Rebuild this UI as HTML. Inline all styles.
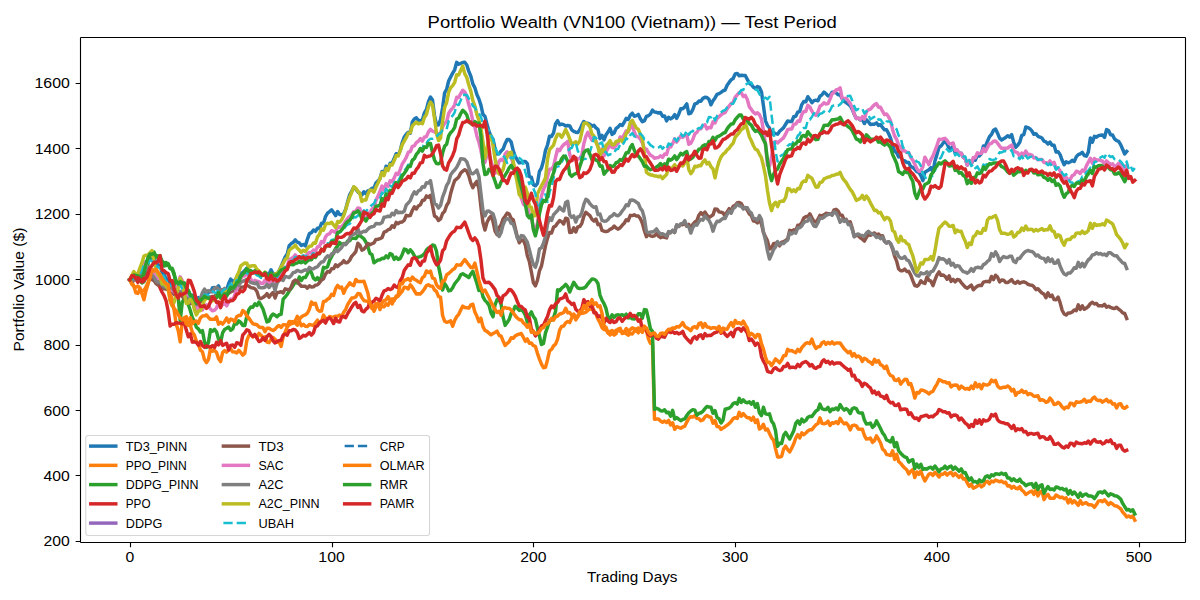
<!DOCTYPE html><html><head><meta charset="utf-8"><title>Portfolio Wealth</title><style>html,body{margin:0;padding:0;background:#fff}svg{display:block}text{font-family:"Liberation Sans",sans-serif;fill:#000}</style></head><body>
<svg width="1200" height="600" viewBox="0 0 1200 600">
<rect width="1200" height="600" fill="#fff"/>
<defs><clipPath id="ax"><rect x="79.53" y="37.33" width="1105.47" height="504.39"/></clipPath></defs>
<g clip-path="url(#ax)" fill="none" stroke-linejoin="round">
<polyline points="129.78,279.7 131.8,278.61 133.82,277.53 135.83,277.85 137.85,275.74 139.87,273.35 141.89,270.43 143.91,263.48 145.92,261.84 147.94,260.93 149.96,257.76 151.98,258.44 154,258.23 156.01,261.97 158.03,265.47 160.05,265.51 162.07,272.26 164.09,274.46 166.11,278.89 168.12,279.37 170.14,283.29 172.16,283.13 174.18,287.69 176.2,286.67 178.21,284.77 180.23,280.87 182.25,287.17 184.27,289.3 186.29,291.46 188.3,291.26 190.32,295.34 192.34,295.15 194.36,296.64 196.38,299.99 198.39,297.6 200.41,299.66 202.43,296.91 204.45,291 206.47,291.77 208.48,292.32 210.5,291.9 212.52,287.72 214.54,287.56 216.56,288.76 218.58,285.86 220.59,291.92 222.61,289.71 224.63,289.1 226.65,290.05 228.67,283.54 230.68,279.12 232.7,281.3 234.72,280.78 236.74,277.72 238.76,277.23 240.77,273.59 242.79,272.41 244.81,270.51 246.83,268.04 248.85,271.29 250.86,270.76 252.88,272.38 254.9,270.87 256.92,272.36 258.94,272.55 260.95,274.25 262.97,275.01 264.99,272.68 267.01,273.65 269.03,274.24 271.04,269.83 273.06,273.7 275.08,273.8 277.1,273.86 279.12,270.9 281.14,266.38 283.15,261.81 285.17,256.94 287.19,254.14 289.21,245.63 291.23,243.6 293.24,242.37 295.26,239.92 297.28,242.09 299.3,242.95 301.32,245.56 303.33,244.43 305.35,245.87 307.37,239.32 309.39,233.66 311.41,232.68 313.42,230 315.44,231.32 317.46,228.22 319.48,228.52 321.5,223.27 323.51,223.35 325.53,216.56 327.55,213.13 329.57,211.52 331.59,209.78 333.61,212.48 335.62,215.64 337.64,211.57 339.66,214.45 341.68,214.75 343.7,213.69 345.71,209.16 347.73,201.4 349.75,194.52 351.77,191.04 353.79,187.1 355.8,189.14 357.82,191.82 359.84,193.37 361.86,194.96 363.88,191.81 365.89,193.76 367.91,190.79 369.93,190.05 371.95,188.21 373.97,188.17 375.98,183 378,181.06 380.02,178.53 382.04,171.49 384.06,173.62 386.07,166.21 388.09,168.8 390.11,163.34 392.13,163.26 394.15,158.54 396.17,153.69 398.18,155.15 400.2,150.62 402.22,142.51 404.24,136.97 406.26,134.31 408.27,132.18 410.29,133.27 412.31,121.98 414.33,119.06 416.35,117.84 418.36,120.46 420.38,120.4 422.4,120 424.42,112.81 426.44,109.53 428.45,101.65 430.47,97.06 432.49,99.93 434.51,115.51 436.53,124.88 438.54,124.92 440.56,119.49 442.58,107.72 444.6,92.88 446.62,89.34 448.64,81 450.65,77.02 452.67,73.14 454.69,69.78 456.71,62.32 458.73,64.24 460.74,63.41 462.76,62.52 464.78,62.31 466.8,64.98 468.82,71.39 470.83,76.07 472.85,83.87 474.87,87.75 476.89,94.59 478.91,98.93 480.92,105.09 482.94,114.27 484.96,116.34 486.98,124.14 489,131.54 491.01,136.2 493.03,139.2 495.05,148.76 497.07,154.02 499.09,153.83 501.1,150.95 503.12,149.02 505.14,143.74 507.16,139.58 509.18,139.5 511.2,142.14 513.21,150.7 515.23,156.34 517.25,159.94 519.27,162.91 521.29,162.59 523.3,161.52 525.32,161.41 527.34,163.61 529.36,176.5 531.38,177.16 533.39,184.81 535.41,185.83 537.43,183.48 539.45,171.29 541.47,168.02 543.48,160.77 545.5,150.39 547.52,144.99 549.54,136.22 551.56,136.46 553.57,132.87 555.59,123.74 557.61,120.66 559.63,124.79 561.65,124.08 563.67,124.62 565.68,125.95 567.7,125.44 569.72,125.87 571.74,129.81 573.76,131.33 575.77,132.21 577.79,132.62 579.81,129.75 581.83,125.08 583.85,121.45 585.86,123.28 587.88,123.34 589.9,124.33 591.92,126.35 593.94,125.19 595.95,127.85 597.97,129.41 599.99,138.67 602.01,135.39 604.03,139.87 606.04,134.83 608.06,131.97 610.08,128.28 612.1,134.35 614.12,132.97 616.13,128.37 618.15,127 620.17,124.49 622.19,125.56 624.21,122.27 626.23,118.43 628.24,119.5 630.26,115.17 632.28,113.16 634.3,116.35 636.32,115.69 638.33,114.37 640.35,118.8 642.37,121.76 644.39,120.68 646.41,116.41 648.42,115.77 650.44,114.02 652.46,110.16 654.48,112.02 656.5,112.3 658.51,113 660.53,112.55 662.55,116.26 664.57,115.91 666.59,120.86 668.6,117.23 670.62,118.92 672.64,117.49 674.66,114.7 676.68,118.34 678.7,114.21 680.71,108.82 682.73,108.67 684.75,106.84 686.77,103.86 688.79,113.85 690.8,113.18 692.82,109.5 694.84,103.88 696.86,103.35 698.88,101.03 700.89,101.19 702.91,98.36 704.93,97.35 706.95,97.54 708.97,99.35 710.98,104.78 713,100.83 715.02,97.97 717.04,94.42 719.06,93.66 721.07,92.36 723.09,90.75 725.11,90 727.13,85.3 729.15,82.4 731.16,79.68 733.18,78.53 735.2,73.83 737.22,73.43 739.24,75.76 741.26,75.3 743.27,75.55 745.29,75.41 747.31,79.44 749.33,83.17 751.35,84.41 753.36,87.17 755.38,88.67 757.4,86.54 759.42,87.41 761.44,91.64 763.45,105.75 765.47,120.84 767.49,125.51 769.51,128.03 771.53,134.65 773.54,132.49 775.56,133.65 777.58,134.18 779.6,131.3 781.62,129.46 783.63,127.61 785.65,124.25 787.67,121.04 789.69,121.43 791.71,121.53 793.73,116.75 795.74,116.26 797.76,112.11 799.78,111.29 801.8,104.62 803.82,101.58 805.83,101.82 807.85,96.73 809.87,99.44 811.89,102.69 813.91,100.64 815.92,100.12 817.94,100.78 819.96,96.25 821.98,94.85 824,92.05 826.01,93.76 828.03,95.92 830.05,95.45 832.07,92.24 834.09,92.33 836.1,92.84 838.12,94.7 840.14,94.79 842.16,98.62 844.18,101.54 846.19,102.55 848.21,104.21 850.23,105.75 852.25,109.28 854.27,114.23 856.29,118.46 858.3,118.1 860.32,119.93 862.34,118.95 864.36,123.56 866.38,119.77 868.39,121.68 870.41,124.55 872.43,124.19 874.45,124.16 876.47,122.85 878.48,125.41 880.5,124.56 882.52,127.44 884.54,129.87 886.56,129.72 888.57,133.52 890.59,138.16 892.61,145.87 894.63,151.18 896.65,152.74 898.66,156.91 900.68,156.28 902.7,160.89 904.72,160.66 906.74,162.59 908.76,162.57 910.77,166.69 912.79,167.35 914.81,169.37 916.83,171.59 918.85,172.33 920.86,175.53 922.88,180.64 924.9,172.14 926.92,170.96 928.94,169.75 930.95,167.59 932.97,172.05 934.99,160.7 937.01,154.39 939.03,147.23 941.04,146.01 943.06,143.21 945.08,140.89 947.1,144.02 949.12,148.15 951.13,148.25 953.15,146.37 955.17,152.82 957.19,151.17 959.21,153.54 961.22,153.14 963.24,157.18 965.26,158.82 967.28,165.02 969.3,160.6 971.32,164 973.33,159.17 975.35,160.2 977.37,155.37 979.39,155.98 981.41,153.67 983.42,146.01 985.44,146.38 987.46,141.19 989.48,136.75 991.5,134.4 993.51,130.14 995.53,129 997.55,133.2 999.57,138.12 1001.59,140.03 1003.6,138.82 1005.62,137.61 1007.64,135.68 1009.66,137.25 1011.68,134.64 1013.69,142.28 1015.71,147.36 1017.73,145.12 1019.75,142.29 1021.77,135.35 1023.79,134.65 1025.8,127 1027.82,127.56 1029.84,128.68 1031.86,130.83 1033.88,134.34 1035.89,133.69 1037.91,136.28 1039.93,137.05 1041.95,138.06 1043.97,141.16 1045.98,141.86 1048,143.97 1050.02,142.08 1052.04,145.19 1054.06,145.12 1056.07,152.1 1058.09,151.64 1060.11,154.63 1062.13,160.3 1064.15,164.76 1066.16,161.86 1068.18,162.79 1070.2,162 1072.22,160.31 1074.24,161.46 1076.25,156.87 1078.27,154.57 1080.29,153.78 1082.31,152.37 1084.33,155.62 1086.35,156.2 1088.36,152.02 1090.38,138.05 1092.4,142.17 1094.42,136.41 1096.44,137.27 1098.45,135.61 1100.47,135.22 1102.49,134.98 1104.51,137.45 1106.53,129.61 1108.54,130.6 1110.56,134.78 1112.58,135.08 1114.6,138.96 1116.62,140.6 1118.63,141.28 1120.65,144.67 1122.67,149.27 1124.69,154.03 1126.71,151.52" stroke="#1f77b4" stroke-width="3.47" stroke-linecap="square"/>
<polyline points="129.78,279.7 131.8,281.2 133.82,286.21 135.83,287.1 137.85,286.1 139.87,287.82 141.89,291.28 143.91,290.34 145.92,287.16 147.94,282.72 149.96,276.88 151.98,277.67 154,272.24 156.01,278.15 158.03,276.9 160.05,280.01 162.07,283.16 164.09,285.56 166.11,285.11 168.12,287.79 170.14,294.16 172.16,299.27 174.18,310.69 176.2,324.15 178.21,330.47 180.23,341.9 182.25,321.03 184.27,317.86 186.29,316.68 188.3,320.87 190.32,325.41 192.34,332.17 194.36,335.08 196.38,341 198.39,343.99 200.41,350.11 202.43,351.76 204.45,359.56 206.47,362.61 208.48,359.33 210.5,348.64 212.52,351.25 214.54,350.4 216.56,352.51 218.58,358.63 220.59,361.64 222.61,352.52 224.63,350.58 226.65,352.14 228.67,349.84 230.68,349.1 232.7,351.89 234.72,351.87 236.74,352.96 238.76,350.29 240.77,352.42 242.79,355.11 244.81,353.26 246.83,340.6 248.85,335.57 250.86,335.03 252.88,336.87 254.9,334.94 256.92,338.2 258.94,333.34 260.95,335.18 262.97,337.41 264.99,336.8 267.01,342.18 269.03,342.63 271.04,339.08 273.06,337.46 275.08,339.23 277.1,342.45 279.12,341.73 281.14,346.49 283.15,336.92 285.17,331.88 287.19,327.25 289.21,324.81 291.23,323.79 293.24,322.95 295.26,322.77 297.28,325.28 299.3,320.83 301.32,325.82 303.33,324.28 305.35,326.26 307.37,326.44 309.39,324.48 311.41,324.91 313.42,325.67 315.44,322.83 317.46,320.21 319.48,323.27 321.5,321.19 323.51,315.14 325.53,318.39 327.55,319.37 329.57,316.48 331.59,317.15 333.61,316.84 335.62,316.12 337.64,316.22 339.66,315.1 341.68,316.46 343.7,312.3 345.71,309.46 347.73,304.34 349.75,301.19 351.77,297.98 353.79,297.69 355.8,296.89 357.82,293.6 359.84,293.63 361.86,297.63 363.88,300.58 365.89,301.05 367.91,301.33 369.93,304.83 371.95,304.87 373.97,311.27 375.98,306.89 378,303.14 380.02,305.39 382.04,306.53 384.06,306.89 386.07,303.8 388.09,305.31 390.11,300.83 392.13,298.89 394.15,300.66 396.17,296.02 398.18,296.22 400.2,293.75 402.22,291.13 404.24,287.25 406.26,287.51 408.27,289 410.29,284.78 412.31,287.15 414.33,290.7 416.35,293.99 418.36,293.77 420.38,293.93 422.4,291.79 424.42,288.99 426.44,285.66 428.45,284.72 430.47,286.09 432.49,286.23 434.51,289.92 436.53,291.68 438.54,296.54 440.56,297.18 442.58,315.53 444.6,321.15 446.62,322.35 448.64,321.82 450.65,320.78 452.67,326.26 454.69,320.32 456.71,316.63 458.73,314.34 460.74,309.92 462.76,306.16 464.78,307.54 466.8,307.73 468.82,308.14 470.83,304.8 472.85,304.24 474.87,312.12 476.89,316.34 478.91,321.61 480.92,318.16 482.94,326.58 484.96,330.38 486.98,331.38 489,333.14 491.01,334.83 493.03,333.51 495.05,332.42 497.07,331.14 499.09,335.33 501.1,336.17 503.12,340.98 505.14,345.44 507.16,343.56 509.18,341.66 511.2,337.69 513.21,338.25 515.23,335.93 517.25,334.74 519.27,334.08 521.29,333.52 523.3,337.3 525.32,341.32 527.34,338.96 529.36,343.16 531.38,343.08 533.39,345.69 535.41,346.46 537.43,353.32 539.45,359.06 541.47,364.1 543.48,367.79 545.5,367.37 547.52,359.71 549.54,350.86 551.56,349.4 553.57,345.89 555.59,344.14 557.61,339.13 559.63,330.16 561.65,326.42 563.67,325.99 565.68,322.87 567.7,321.5 569.72,322.6 571.74,317.88 573.76,314.15 575.77,316.64 577.79,316.3 579.81,313.88 581.83,313.39 583.85,312.99 585.86,312.18 587.88,310.3 589.9,308.8 591.92,309.42 593.94,310.38 595.95,314.02 597.97,319.07 599.99,322.64 602.01,327.63 604.03,329.5 606.04,329.86 608.06,332.92 610.08,331.52 612.1,330.43 614.12,332.8 616.13,330.11 618.15,329.94 620.17,331.18 622.19,331.99 624.21,331.99 626.23,328.52 628.24,331.28 630.26,329.63 632.28,327.82 634.3,328.62 636.32,329.6 638.33,327.92 640.35,328.6 642.37,332.04 644.39,326.16 646.41,330.35 648.42,338.72 650.44,343.37 652.46,343.82 654.48,419.31 656.5,418.96 658.51,419.05 660.53,420.98 662.55,422.18 664.57,421.06 666.59,422.47 668.6,420.4 670.62,424.97 672.64,422.75 674.66,429.33 676.68,426.71 678.7,427.36 680.71,428.15 682.73,426.92 684.75,426.31 686.77,422.12 688.79,418.37 690.8,416.71 692.82,417.03 694.84,415.57 696.86,418.37 698.88,418.69 700.89,420.71 702.91,419.96 704.93,416.96 706.95,415.48 708.97,416.74 710.98,417.23 713,423.32 715.02,420.59 717.04,426.58 719.06,426.68 721.07,429.43 723.09,427.91 725.11,426.73 727.13,425.16 729.15,423.57 731.16,421.52 733.18,418.54 735.2,417.63 737.22,418.5 739.24,412.33 741.26,416.22 743.27,413.69 745.29,415.93 747.31,417.73 749.33,417.73 751.35,420.12 753.36,417.12 755.38,422.46 757.4,419.84 759.42,429.09 761.44,427.76 763.45,424.22 765.47,430.05 767.49,429.02 769.51,433.45 771.53,437.79 773.54,440.02 775.56,448.9 777.58,456.93 779.6,457.05 781.62,456.38 783.63,448.91 785.65,446.13 787.67,449.6 789.69,452.01 791.71,448.16 793.73,443.84 795.74,438.05 797.76,434.62 799.78,437.93 801.8,432.88 803.82,434.71 805.83,432.97 807.85,430.96 809.87,429.79 811.89,429.74 813.91,427.13 815.92,424.83 817.94,423.62 819.96,417.87 821.98,423.35 824,423.79 826.01,423.26 828.03,421.14 830.05,425.41 832.07,422.76 834.09,423.25 836.1,421.69 838.12,423.65 840.14,418.29 842.16,421.68 844.18,423.83 846.19,422.94 848.21,425.4 850.23,429.83 852.25,425.61 854.27,425.11 856.29,425.78 858.3,429.02 860.32,429.29 862.34,429.15 864.36,435.33 866.38,439.05 868.39,438.82 870.41,438.03 872.43,442.32 874.45,440.7 876.47,435.92 878.48,439.01 880.5,442.71 882.52,449.07 884.54,450.57 886.56,454.49 888.57,454.87 890.59,455.56 892.61,450.73 894.63,459.44 896.65,454.23 898.66,461.41 900.68,463.38 902.7,465.94 904.72,468.01 906.74,469.77 908.76,473.92 910.77,471.24 912.79,469.59 914.81,477.49 916.83,471.95 918.85,474.5 920.86,470.95 922.88,476.8 924.9,480.9 926.92,477.36 928.94,474.16 930.95,473.45 932.97,475.39 934.99,472.23 937.01,474.43 939.03,477.01 941.04,474.13 943.06,474.26 945.08,472.44 947.1,475.07 949.12,473.18 951.13,472.33 953.15,475.67 955.17,473.4 957.19,475.51 959.21,477.41 961.22,475.08 963.24,478.97 965.26,478.69 967.28,483.12 969.3,486.36 971.32,484.16 973.33,488.18 975.35,487.2 977.37,485.95 979.39,484.45 981.41,486.83 983.42,485.6 985.44,481.9 987.46,481.32 989.48,483.79 991.5,480.95 993.51,481.96 995.53,480.09 997.55,480.85 999.57,481.79 1001.59,480.97 1003.6,482.83 1005.62,482.19 1007.64,486.05 1009.66,485.62 1011.68,488.05 1013.69,486.33 1015.71,488.31 1017.73,488.72 1019.75,486.61 1021.77,490.2 1023.79,491.73 1025.8,494.41 1027.82,493.13 1029.84,491.86 1031.86,491.08 1033.88,494.4 1035.89,489.99 1037.91,495.96 1039.93,492.1 1041.95,490.96 1043.97,499.63 1045.98,496.16 1048,494.34 1050.02,498.27 1052.04,498.15 1054.06,498.22 1056.07,494.98 1058.09,496.23 1060.11,497.65 1062.13,497.07 1064.15,498.8 1066.16,497.85 1068.18,502.9 1070.2,499.2 1072.22,503.07 1074.24,500.74 1076.25,502.8 1078.27,505.31 1080.29,500.66 1082.31,504.26 1084.33,503.23 1086.35,502.76 1088.36,504.68 1090.38,504.61 1092.4,505.23 1094.42,507.34 1096.44,504.55 1098.45,501.09 1100.47,500.63 1102.49,501.68 1104.51,499.89 1106.53,502.15 1108.54,504.69 1110.56,502.64 1112.58,503.95 1114.6,505.74 1116.62,506.03 1118.63,507.33 1120.65,508.73 1122.67,512.1 1124.69,514.26 1126.71,517.04 1128.72,515.96 1130.74,517.45 1132.76,516.02 1134.78,520.27" stroke="#ff7f0e" stroke-width="3.47" stroke-linecap="square"/>
<polyline points="129.78,279.7 131.8,276.9 133.82,278.03 135.83,276.67 137.85,275.95 139.87,280.62 141.89,282.91 143.91,281.71 145.92,277.54 147.94,264.5 149.96,253.82 151.98,254.89 154,251.98 156.01,257.25 158.03,255.68 160.05,257.51 162.07,260.94 164.09,266.01 166.11,262.58 168.12,264.09 170.14,268.42 172.16,268.34 174.18,273.65 176.2,286.3 178.21,297 180.23,320.68 182.25,302.23 184.27,299.01 186.29,298.71 188.3,304.51 190.32,310.49 192.34,317.76 194.36,321.16 196.38,327.25 198.39,328.89 200.41,331.99 202.43,330.61 204.45,341.55 206.47,347.39 208.48,342.1 210.5,329.64 212.52,331.24 214.54,329.38 216.56,332.04 218.58,339.17 220.59,342.69 222.61,332.9 224.63,329.41 226.65,328.28 228.67,327.08 230.68,330.2 232.7,328.84 234.72,323.27 236.74,324.02 238.76,320.91 240.77,322.42 242.79,325.41 244.81,325.57 246.83,315.84 248.85,309.8 250.86,306.88 252.88,307.21 254.9,303.76 256.92,305.51 258.94,302.01 260.95,305.18 262.97,309.07 264.99,315.52 267.01,321.93 269.03,321.11 271.04,316.26 273.06,314.04 275.08,315.17 277.1,316.77 279.12,314.8 281.14,314.3 283.15,299.15 285.17,297.05 287.19,294.44 289.21,291.03 291.23,288.5 293.24,285.4 295.26,281.95 297.28,282.95 299.3,276.98 301.32,280.45 303.33,277.4 305.35,277.52 307.37,274.16 309.39,269.62 311.41,272.45 313.42,278.21 315.44,279.82 317.46,277.7 319.48,280.77 321.5,276.45 323.51,267.37 325.53,267.85 327.55,266.78 329.57,260.36 331.59,256.71 333.61,252.4 335.62,248.47 337.64,246.04 339.66,242.41 341.68,244.59 343.7,243.44 345.71,243.92 347.73,240.94 349.75,240.81 351.77,237.98 353.79,238.34 355.8,238.55 357.82,236.02 359.84,235.55 361.86,237.06 363.88,238.77 365.89,242.04 367.91,246.95 369.93,253.47 371.95,254.59 373.97,262.74 375.98,261.35 378,260.01 380.02,259.74 382.04,258.35 384.06,258.53 386.07,255.95 388.09,257.81 390.11,253.5 392.13,254.58 394.15,259.38 396.17,257.19 398.18,259.4 400.2,258.6 402.22,254.46 404.24,249.07 406.26,249.7 408.27,252.71 410.29,249.78 412.31,252.15 414.33,255.7 416.35,258.31 418.36,257.09 420.38,256.62 422.4,255.49 424.42,253.7 426.44,249.95 428.45,247.99 430.47,247.88 432.49,245 434.51,245.66 436.53,251.26 438.54,266.35 440.56,276.05 442.58,290.04 444.6,283.55 446.62,286.39 448.64,290.9 450.65,290.34 452.67,287.68 454.69,283.76 456.71,281.23 458.73,278.73 460.74,274.78 462.76,273.66 464.78,275.04 466.8,276.13 468.82,277.55 470.83,273.97 472.85,271.39 474.87,277.25 476.89,283.22 478.91,290.51 480.92,288.16 482.94,296.58 484.96,300.38 486.98,302.37 489,305.14 491.01,312.91 493.03,316.83 495.05,304.82 497.07,299.5 499.09,299.65 501.1,304.2 503.12,317.22 505.14,325.37 507.16,322.48 509.18,319.57 511.2,313.4 513.21,310.93 515.23,306.28 517.25,308.12 519.27,310.48 521.29,309.73 523.3,311.5 525.32,315.27 527.34,321.99 529.36,314.84 531.38,311.95 533.39,316.58 535.41,319.37 537.43,328.25 539.45,336.01 541.47,344.53 543.48,343.4 545.5,332.87 547.52,327.23 549.54,320.4 551.56,320.18 553.57,317.68 555.59,311.3 557.61,289.68 559.63,290.8 561.65,288.1 563.67,286.66 565.68,284.24 567.7,286.9 569.72,292.04 571.74,287.01 573.76,282.27 575.77,285.3 577.79,287.99 579.81,288.59 581.83,288.39 583.85,287.99 585.86,286.75 587.88,283.86 589.9,281.35 591.92,279.04 593.94,279.13 595.95,280.38 597.97,283.46 599.99,295.1 602.01,300.13 604.03,303.53 606.04,308.52 608.06,317.51 610.08,318.9 612.1,314.79 614.12,317.36 616.13,315.11 618.15,314.78 620.17,315.42 622.19,314.73 624.21,316.2 626.23,314.13 628.24,317.9 630.26,317.52 632.28,318.74 634.3,318.97 636.32,317.63 638.33,313.75 640.35,313.78 642.37,318.23 644.39,309.58 646.41,310.04 648.42,318.99 650.44,328.81 652.46,331.28 654.48,409.38 656.5,408.29 658.51,409.05 660.53,410.71 662.55,410.93 664.57,409.81 666.59,412.8 668.6,412.21 670.62,416.22 672.64,410.39 674.66,418.99 676.68,417.55 678.7,419.21 680.71,420.65 682.73,419.42 684.75,418.81 686.77,415.5 688.79,412.76 690.8,411.04 692.82,409.68 694.84,410.17 696.86,415.23 698.88,413.44 700.89,412.77 702.91,411.28 704.93,408.62 706.95,406.5 708.97,407.08 710.98,407.23 713,413.32 715.02,410.6 717.04,417.6 719.06,418.71 721.07,423 723.09,419.95 725.11,409.29 727.13,408.73 729.15,408.14 731.16,406.52 733.18,403.54 735.2,402.68 737.22,404.05 739.24,398.39 741.26,402.47 743.27,399.94 745.29,402.04 747.31,402.82 749.33,401.82 751.35,404.21 753.36,401.71 755.38,407.27 757.4,403.64 759.42,412.84 761.44,415.7 763.45,407.28 765.47,413.81 767.49,414.19 769.51,413.87 771.53,421.09 773.54,423.73 775.56,430.84 777.58,446.26 779.6,443.26 781.62,443.58 783.63,435.31 785.65,432.38 787.67,435.91 789.69,438.99 791.71,434.92 793.73,430.76 795.74,423.43 797.76,420.87 799.78,424.18 801.8,419.13 803.82,421.95 805.83,420.47 807.85,417.25 809.87,416.33 811.89,416.54 813.91,413.65 815.92,411.08 817.94,409.87 819.96,404.12 821.98,408.61 824,409.54 826.01,409.51 828.03,407.39 830.05,411.66 832.07,409.01 834.09,409.5 836.1,407.94 838.12,409.9 840.14,404.54 842.16,407.93 844.18,410.08 846.19,408.59 848.21,410.04 850.23,413.53 852.25,408.8 854.27,407.79 856.29,408.6 858.3,412.35 860.32,413.04 862.34,412.9 864.36,420 866.38,424.05 868.39,423.82 870.41,423.03 872.43,427.32 874.45,425.7 876.47,420.92 878.48,424.5 880.5,428.46 882.52,432.83 884.54,435.34 886.56,439.88 888.57,440.77 890.59,441.96 892.61,437.64 894.63,446.85 896.65,442.56 898.66,450.74 900.68,453.21 902.7,455.26 904.72,456.83 906.74,457.65 908.76,462.05 910.77,460.38 912.79,459.74 914.81,468.64 916.83,464.11 918.85,467.67 920.86,464.34 922.88,469.35 924.9,468.78 926.92,469.17 928.94,467.65 930.95,467.2 932.97,469.14 934.99,465.98 937.01,468.69 939.03,471.77 941.04,468.87 943.06,468.49 945.08,466.19 947.1,468.82 949.12,466.93 951.13,466.08 953.15,469.42 955.17,467.15 957.19,469.26 959.21,471.16 961.22,468.83 963.24,472.72 965.26,472.44 967.28,476.87 969.3,480.11 971.32,477.91 973.33,481.93 975.35,481.39 977.37,482.66 979.39,479.91 981.41,481.83 983.42,480.6 985.44,476.79 987.46,475.7 989.48,477.67 991.5,474.7 993.51,475.71 995.53,473.71 997.55,473.96 999.57,474.39 1001.59,473.08 1003.6,474.43 1005.62,473.6 1007.64,477.96 1009.66,478.04 1011.68,480.55 1013.69,478.83 1015.71,480.81 1017.73,481.22 1019.75,479.11 1021.77,482.26 1023.79,483.29 1025.8,485.66 1027.82,484.49 1029.84,483.89 1031.86,483.78 1033.88,487.54 1035.89,483.4 1037.91,489.54 1039.93,485.84 1041.95,484.71 1043.97,493.38 1045.98,489.42 1048,486.59 1050.02,489.51 1052.04,488.89 1054.06,490.01 1056.07,486.94 1058.09,487.48 1060.11,488.9 1062.13,488.32 1064.15,490.05 1066.16,489.1 1068.18,494.15 1070.2,490.45 1072.22,494.32 1074.24,491.99 1076.25,494.37 1078.27,497.38 1080.29,493.08 1082.31,496.18 1084.33,494.64 1086.35,494.01 1088.36,495.93 1090.38,495.86 1092.4,496.48 1094.42,498.59 1096.44,495.8 1098.45,492.34 1100.47,491.88 1102.49,492.93 1104.51,491.14 1106.53,493.4 1108.54,495.94 1110.56,493.75 1112.58,494.56 1114.6,495.84 1116.62,496.03 1118.63,497.33 1120.65,499.06 1122.67,503.43 1124.69,506.61 1126.71,509.97 1128.72,509.39 1130.74,511.2 1132.76,509.77 1134.78,514.02" stroke="#2ca02c" stroke-width="3.47" stroke-linecap="square"/>
<polyline points="129.78,279.7 131.8,278.9 133.82,275.51 135.83,279.19 137.85,282.36 139.87,276.72 141.89,281.94 143.91,280.87 145.92,277.74 147.94,276.83 149.96,275.36 151.98,270.65 154,275.76 156.01,277.84 158.03,283.18 160.05,287.8 162.07,292.25 164.09,295.73 166.11,300.92 168.12,310.99 170.14,325.97 172.16,324.28 174.18,324.18 176.2,322.59 178.21,323.02 180.23,323.39 182.25,323.88 184.27,322.18 186.29,330.1 188.3,336.75 190.32,333.81 192.34,342.15 194.36,341.82 196.38,342.5 198.39,345.24 200.41,341.58 202.43,345.41 204.45,347.33 206.47,345.77 208.48,346.8 210.5,347.13 212.52,345.58 214.54,347.53 216.56,342.18 218.58,344.86 220.59,340.66 222.61,345.37 224.63,344.32 226.65,343.25 228.67,350.04 230.68,345.39 232.7,344.98 234.72,347.29 236.74,342.68 238.76,343.34 240.77,345.31 242.79,334.95 244.81,332.89 246.83,329.83 248.85,330.67 250.86,334.57 252.88,336.49 254.9,334.4 256.92,338.04 258.94,341.5 260.95,340.89 262.97,337.8 264.99,340.4 267.01,336.48 269.03,334.46 271.04,336.53 273.06,340.82 275.08,342.95 277.1,341.45 279.12,340.65 281.14,340.22 283.15,335.06 285.17,334.03 287.19,335.12 289.21,330.78 291.23,330.78 293.24,329.43 295.26,329.98 297.28,332.47 299.3,338.38 301.32,337.21 303.33,335.28 305.35,336.05 307.37,334.36 309.39,332.6 311.41,335.19 313.42,332.89 315.44,326.58 317.46,325.9 319.48,322.74 321.5,321.32 323.51,320.3 325.53,323.09 327.55,318.86 329.57,317.87 331.59,319.9 333.61,323.54 335.62,318.35 337.64,321.53 339.66,322.03 341.68,316.7 343.7,316.59 345.71,317.6 347.73,313.45 349.75,310.31 351.77,306.92 353.79,303.86 355.8,302.3 357.82,307.41 359.84,305.43 361.86,310.91 363.88,311.81 365.89,309.25 367.91,307.73 369.93,302.51 371.95,302.44 373.97,300.99 375.98,298.32 378,299.31 380.02,300.83 382.04,295.25 384.06,290.87 386.07,290.25 388.09,288.52 390.11,289.54 392.13,288.69 394.15,285.13 396.17,286.99 398.18,287.72 400.2,280.74 402.22,277.47 404.24,270.45 406.26,267.57 408.27,264.84 410.29,265.31 412.31,258.53 414.33,257.7 416.35,259.06 418.36,262.62 420.38,265.37 422.4,261.31 424.42,260.95 426.44,253.12 428.45,250.63 430.47,246.5 432.49,255.61 434.51,260.84 436.53,264.82 438.54,263.2 440.56,260.25 442.58,250.79 444.6,248.67 446.62,240.8 448.64,237.36 450.65,234.24 452.67,232.16 454.69,230.96 456.71,227.28 458.73,227.59 460.74,227.62 462.76,224.78 464.78,222.16 466.8,227.34 468.82,233.16 470.83,238.27 472.85,240.49 474.87,237.95 476.89,240.64 478.91,246.24 480.92,259.79 482.94,278.02 484.96,282.53 486.98,282.52 489,282.23 491.01,284.16 493.03,286.84 495.05,289.63 497.07,295.57 499.09,297.39 501.1,302.6 503.12,295.71 505.14,294.74 507.16,292.65 509.18,289.53 511.2,290.01 513.21,292.62 515.23,296.09 517.25,301.4 519.27,306.1 521.29,306.56 523.3,308.64 525.32,310.02 527.34,316.91 529.36,318.01 531.38,329.3 533.39,331.41 535.41,335.91 537.43,333.49 539.45,329.77 541.47,325.94 543.48,325.21 545.5,320.62 547.52,316.47 549.54,309.86 551.56,305.94 553.57,307.64 555.59,303.87 557.61,302.42 559.63,299.13 561.65,298.46 563.67,297.5 565.68,293.91 567.7,300.58 569.72,302.19 571.74,304.42 573.76,303.24 575.77,309.29 577.79,311.19 579.81,310.98 581.83,308.44 583.85,299.75 585.86,302.97 587.88,301.67 589.9,306.38 591.92,305.03 593.94,312.76 595.95,312.79 597.97,316.65 599.99,315.87 602.01,318.18 604.03,322.75 606.04,318.28 608.06,321.05 610.08,322.47 612.1,320.27 614.12,322.52 616.13,321.62 618.15,318.19 620.17,318.04 622.19,321.33 624.21,318.73 626.23,317.38 628.24,316.95 630.26,313.4 632.28,316.37 634.3,315.44 636.32,317.03 638.33,321.18 640.35,319.67 642.37,330.42 644.39,328.3 646.41,330.53 648.42,334.33 650.44,335.9 652.46,334.68 654.48,334.15 656.5,338.11 658.51,339.1 660.53,336.14 662.55,336.7 664.57,337.16 666.59,333.07 668.6,330.99 670.62,332.58 672.64,331.72 674.66,333.28 676.68,332.49 678.7,333.94 680.71,333.18 682.73,331.46 684.75,336.22 686.77,338.61 688.79,340.8 690.8,342.8 692.82,338.43 694.84,336.71 696.86,339.2 698.88,335.63 700.89,334.8 702.91,338.5 704.93,333.56 706.95,335.95 708.97,335.32 710.98,335.52 713,333.68 715.02,332.62 717.04,332.15 719.06,327.29 721.07,333.25 723.09,331.16 725.11,334.23 727.13,336.44 729.15,334.55 731.16,332.46 733.18,336.61 735.2,330.02 737.22,328.83 739.24,328.5 741.26,331.11 743.27,327.9 745.29,329.92 747.31,332.94 749.33,340.5 751.35,339.1 753.36,341.61 755.38,345.34 757.4,343.13 759.42,344.69 761.44,356.47 763.45,361.21 765.47,364.7 767.49,371.36 769.51,372.1 771.53,372.5 773.54,369 775.56,367.66 777.58,369.48 779.6,370.56 781.62,369.93 783.63,366.45 785.65,366.57 787.67,363.39 789.69,367.84 791.71,367.2 793.73,367.35 795.74,367.67 797.76,364.36 799.78,366.51 801.8,363.56 803.82,362.34 805.83,361.48 807.85,363.1 809.87,366.02 811.89,364.5 813.91,367.54 815.92,368.39 817.94,366.82 819.96,366.51 821.98,361.83 824,359.75 826.01,362.4 828.03,361.39 830.05,363.8 832.07,361.93 834.09,364.05 836.1,362.98 838.12,362.99 840.14,362.92 842.16,364.91 844.18,366.77 846.19,368.27 848.21,370.28 850.23,369.17 852.25,375.9 854.27,375.36 856.29,380.12 858.3,380.17 860.32,382.39 862.34,386.44 864.36,383.22 866.38,384.19 868.39,386.43 870.41,387.87 872.43,392.9 874.45,391.1 876.47,394.34 878.48,392.45 880.5,396.15 882.52,396.53 884.54,398.51 886.56,395.34 888.57,400.8 890.59,402.88 892.61,402.32 894.63,405.32 896.65,405.49 898.66,403.95 900.68,409.83 902.7,409.24 904.72,409.01 906.74,409.36 908.76,414.5 910.77,412.85 912.79,416.47 914.81,418.61 916.83,417.92 918.85,420.32 920.86,416.74 922.88,416.2 924.9,415.57 926.92,415.19 928.94,417.17 930.95,416.31 932.97,416.76 934.99,414.73 937.01,413.58 939.03,409.63 941.04,410.33 943.06,411.72 945.08,411.81 947.1,413.16 949.12,412.8 951.13,416.96 953.15,415.22 955.17,414.98 957.19,415.79 959.21,419.98 961.22,418.01 963.24,420.46 965.26,423.13 967.28,424.45 969.3,427.4 971.32,424.51 973.33,426.49 975.35,420.17 977.37,423.27 979.39,419.74 981.41,424.13 983.42,419.88 985.44,421.01 987.46,420.64 989.48,419.04 991.5,414.65 993.51,415.87 995.53,414.16 997.55,419.73 999.57,421.65 1001.59,422.5 1003.6,422.69 1005.62,423.76 1007.64,423.64 1009.66,425.99 1011.68,428.37 1013.69,425.4 1015.71,430.68 1017.73,428.83 1019.75,429.67 1021.77,428.58 1023.79,431.89 1025.8,431.43 1027.82,434.65 1029.84,433.48 1031.86,433.49 1033.88,434.32 1035.89,433.68 1037.91,433.31 1039.93,437.8 1041.95,436.8 1043.97,436.89 1045.98,439.11 1048,439.32 1050.02,436.71 1052.04,439.83 1054.06,444.21 1056.07,444.35 1058.09,443.12 1060.11,445.15 1062.13,447.1 1064.15,448.01 1066.16,446.08 1068.18,447.23 1070.2,443.27 1072.22,443.54 1074.24,445.76 1076.25,442.07 1078.27,443.19 1080.29,443.43 1082.31,443.81 1084.33,442.72 1086.35,443.31 1088.36,440.97 1090.38,443.95 1092.4,441.19 1094.42,439.48 1096.44,441.83 1098.45,442.18 1100.47,441.62 1102.49,444 1104.51,443.21 1106.53,440.7 1108.54,441.78 1110.56,439.91 1112.58,443.53 1114.6,443.62 1116.62,448.4 1118.63,445.2 1120.65,445.16 1122.67,449.5 1124.69,451.12 1126.71,450.28" stroke="#d62728" stroke-width="3.47" stroke-linecap="square"/>
<polyline points="129.78,279.7 131.8,282.09 133.82,280.2 135.83,278.99 137.85,278.73 139.87,275.62 141.89,276.08 143.91,273.86 145.92,272.93 147.94,273.16 149.96,275.19 151.98,279.73 154,280.57 156.01,283.62 158.03,285.03 160.05,283.9 162.07,286.14 164.09,288.87 166.11,289.15 168.12,289.98 170.14,291.63 172.16,291 174.18,294.67 176.2,293.6 178.21,294.93 180.23,294.86 182.25,296.4 184.27,298.41 186.29,300.83 188.3,301.06 190.32,303.25 192.34,303.54 194.36,302.91 196.38,305.11 198.39,301.52 200.41,301.88 202.43,299.4 204.45,294.39 206.47,297.81 208.48,297.27 210.5,297.09 212.52,296.4 214.54,296.1 216.56,295.17 218.58,296.41 220.59,295.52 222.61,296 224.63,293.48 226.65,295.11 228.67,293.23 230.68,291.9 232.7,290.65 234.72,291.09 236.74,286.68 238.76,289.59 240.77,287.38 242.79,287.04 244.81,286.65 246.83,285.2 248.85,286.25 250.86,287.65 252.88,287.92 254.9,288.74 256.92,291.47 258.94,297.92 260.95,298.5 262.97,297.46 264.99,296.03 267.01,293.6 269.03,297.28 271.04,294.58 273.06,292.55 275.08,298 277.1,292.54 279.12,292.25 281.14,291.78 283.15,292.91 285.17,288.77 287.19,289.45 289.21,290.03 291.23,286.82 293.24,281.67 295.26,280 297.28,280.77 299.3,284.05 301.32,286.24 303.33,286.13 305.35,286.28 307.37,288.08 309.39,285.83 311.41,287.13 313.42,286.77 315.44,285.16 317.46,284.86 319.48,282.72 321.5,280.02 323.51,278.74 325.53,274.09 327.55,271.45 329.57,272.15 331.59,268.83 333.61,268.63 335.62,264.82 337.64,266.59 339.66,264.58 341.68,263.35 343.7,260.67 345.71,262.88 347.73,262.47 349.75,260.15 351.77,256.15 353.79,254.14 355.8,251.56 357.82,243.31 359.84,245.28 361.86,250.1 363.88,249.1 365.89,246.76 367.91,243.5 369.93,244.75 371.95,243.77 373.97,242.89 375.98,239.4 378,239.23 380.02,238.68 382.04,237.53 384.06,232.22 386.07,231.45 388.09,229.69 390.11,229.09 392.13,225.7 394.15,227.35 396.17,222.4 398.18,223.67 400.2,222.19 402.22,221.96 404.24,220.27 406.26,215.3 408.27,215.89 410.29,215.48 412.31,210.5 414.33,206.87 416.35,208.97 418.36,205.92 420.38,204.81 422.4,200.53 424.42,199.96 426.44,195.93 428.45,197.32 430.47,195.37 432.49,205.57 434.51,216 436.53,217.24 438.54,220.52 440.56,218.86 442.58,213.5 444.6,211.38 446.62,205.46 448.64,202.29 450.65,193.59 452.67,186.57 454.69,180.55 456.71,178.93 458.73,177.07 460.74,172.93 462.76,171.11 464.78,169.71 466.8,171.04 468.82,175.83 470.83,183.16 472.85,187.67 474.87,183.82 476.89,181.4 478.91,188.52 480.92,206.78 482.94,222.49 484.96,230.09 486.98,222.44 489,218.45 491.01,216 493.03,221.52 495.05,231.13 497.07,234.56 499.09,227.51 501.1,224.79 503.12,218.75 505.14,216.27 507.16,213.11 509.18,214.07 511.2,218.42 513.21,219.7 515.23,227.91 517.25,236.55 519.27,242.76 521.29,239.93 523.3,240.16 525.32,244.99 527.34,255.77 529.36,261.55 531.38,272.03 533.39,282.71 535.41,285.8 537.43,280.44 539.45,270.82 541.47,265.99 543.48,255.84 545.5,245.86 547.52,238.07 549.54,232.47 551.56,232.99 553.57,227.09 555.59,226.03 557.61,223.11 559.63,220.64 561.65,221.7 563.67,224.03 565.68,218.16 567.7,218.86 569.72,232.42 571.74,232.26 573.76,227.8 575.77,232.01 577.79,226.9 579.81,226.5 581.83,223.34 583.85,216.31 585.86,212.21 587.88,214 589.9,215.65 591.92,219.25 593.94,221.08 595.95,219.08 597.97,224.69 599.99,224.09 602.01,230.43 604.03,231.23 606.04,231.63 608.06,231.04 610.08,229.3 612.1,228.44 614.12,226.07 616.13,228.05 618.15,229.13 620.17,227.74 622.19,225.3 624.21,223.32 626.23,219.72 628.24,220.67 630.26,215.36 632.28,215.62 634.3,214.83 636.32,215.93 638.33,216.05 640.35,218.67 642.37,223.24 644.39,230.74 646.41,236.71 648.42,233.79 650.44,235.87 652.46,236.45 654.48,235.77 656.5,233.56 658.51,236.19 660.53,237.68 662.55,236.76 664.57,237.41 666.59,237.87 668.6,232.21 670.62,232.65 672.64,230.46 674.66,232.38 676.68,225.01 678.7,226.45 680.71,224.3 682.73,224.77 684.75,223.07 686.77,226.21 688.79,224.46 690.8,229.54 692.82,224.45 694.84,221.99 696.86,220.76 698.88,215.21 700.89,212.56 702.91,214.87 704.93,212.01 706.95,215.15 708.97,217.55 710.98,216.24 713,214.9 715.02,208.93 717.04,209.13 719.06,211.84 721.07,212.24 723.09,212.94 725.11,216.09 727.13,211.81 729.15,208.62 731.16,210.77 733.18,206.31 735.2,205.32 737.22,202.73 739.24,202.5 741.26,203.48 743.27,207.36 745.29,207.7 747.31,210.1 749.33,213.98 751.35,215.58 753.36,220.98 755.38,221.19 757.4,222.85 759.42,219.35 761.44,223.95 763.45,232.51 765.47,236.82 767.49,240.89 769.51,249.05 771.53,247.74 773.54,243.8 775.56,243.27 777.58,242.91 779.6,245.85 781.62,242.15 783.63,241.69 785.65,240.31 787.67,238.83 789.69,230.32 791.71,231.57 793.73,229.79 795.74,230.71 797.76,225.34 799.78,225.19 801.8,222.52 803.82,218.02 805.83,216.56 807.85,216.67 809.87,213.8 811.89,217.82 813.91,221.35 815.92,221.98 817.94,219.24 819.96,215.33 821.98,215.84 824,214.78 826.01,213.31 828.03,213.62 830.05,213.84 832.07,214.21 834.09,209.83 836.1,209.33 838.12,211.13 840.14,215.01 842.16,215.27 844.18,220.16 846.19,219.37 848.21,223.08 850.23,221.81 852.25,228.23 854.27,236.48 856.29,235.35 858.3,235.6 860.32,237.81 862.34,239.14 864.36,241.08 866.38,237.36 868.39,234.6 870.41,235.34 872.43,233.95 874.45,232.91 876.47,234.89 878.48,233.97 880.5,236.39 882.52,235.67 884.54,241.24 886.56,243.05 888.57,241.7 890.59,243.91 892.61,249.09 894.63,256.31 896.65,261.1 898.66,269 900.68,270.66 902.7,270.73 904.72,269.04 906.74,271.5 908.76,271.36 910.77,275.12 912.79,280.64 914.81,285.51 916.83,286.24 918.85,284.81 920.86,280.79 922.88,282.69 924.9,283.49 926.92,276.93 928.94,280.45 930.95,281.21 932.97,285.61 934.99,279.95 937.01,274.91 939.03,271.93 941.04,275.35 943.06,275.05 945.08,276.36 947.1,279.26 949.12,275.79 951.13,281.38 953.15,279.39 955.17,281.86 957.19,279.51 959.21,279.88 961.22,282.57 963.24,284.8 965.26,287.16 967.28,288.12 969.3,286.57 971.32,285 973.33,289.78 975.35,287.77 977.37,286.14 979.39,285.32 981.41,285.61 983.42,282.16 985.44,281.6 987.46,281.39 989.48,281.9 991.5,276.46 993.51,279.64 995.53,275.2 997.55,277.06 999.57,281.89 1001.59,280.01 1003.6,280.16 1005.62,282.4 1007.64,282.58 1009.66,281.24 1011.68,279.66 1013.69,282.6 1015.71,283.22 1017.73,281.29 1019.75,283.3 1021.77,282.27 1023.79,281.82 1025.8,282.54 1027.82,284.25 1029.84,284.92 1031.86,285.18 1033.88,286.68 1035.89,289.62 1037.91,288.65 1039.93,291 1041.95,293.05 1043.97,294.11 1045.98,297.65 1048,292.75 1050.02,296.49 1052.04,295.19 1054.06,299.61 1056.07,299.82 1058.09,297.17 1060.11,302.59 1062.13,310.25 1064.15,313.97 1066.16,314.96 1068.18,312.93 1070.2,313.03 1072.22,312 1074.24,309.94 1076.25,310.75 1078.27,304.89 1080.29,309.5 1082.31,305.83 1084.33,309.28 1086.35,308.05 1088.36,306.37 1090.38,303.64 1092.4,302.32 1094.42,304 1096.44,303.44 1098.45,305.78 1100.47,305.66 1102.49,306.07 1104.51,304.28 1106.53,307.2 1108.54,306.25 1110.56,307.37 1112.58,308.29 1114.6,308.58 1116.62,307.31 1118.63,309.18 1120.65,310.57 1122.67,312.86 1124.69,313.47 1126.71,318.51" stroke="#8c564b" stroke-width="3.47" stroke-linecap="square"/>
<polyline points="129.78,279.7 131.8,278.61 133.82,277.53 135.83,277.85 137.85,275.48 139.87,271.58 141.89,267.14 143.91,262.88 145.92,264.34 147.94,269.34 149.96,272.63 151.98,273.44 154,273.23 156.01,276.46 158.03,278.95 160.05,277.94 162.07,282.17 164.09,281.85 166.11,285.42 168.12,286.4 170.14,290.69 172.16,289.01 174.18,292.06 176.2,288.62 178.21,283.69 180.23,276.83 182.25,280.61 184.27,287.29 186.29,294.03 188.3,296.46 190.32,301.2 192.34,302.53 194.36,305.07 196.38,309.43 198.39,307.15 200.41,309.13 202.43,309.92 204.45,305.58 206.47,304.94 208.48,305.67 210.5,309.03 212.52,310.84 214.54,310.18 216.56,308.14 218.58,302.28 220.59,306.92 222.61,304.65 224.63,303.04 226.65,305.86 228.67,301.87 230.68,298.95 232.7,300.22 234.72,295.16 236.74,288.86 238.76,285.35 240.77,278.87 242.79,275.83 244.81,275.95 246.83,272.29 248.85,276.72 250.86,278.93 252.88,282.81 254.9,280.29 256.92,281.26 258.94,281.66 260.95,283.38 262.97,283.52 264.99,280.18 267.01,282.16 269.03,283.75 271.04,280.1 273.06,283.9 275.08,282.49 277.1,281.04 279.12,276.57 281.14,272.51 283.15,269.96 285.17,267.11 287.19,266.33 289.21,259.84 291.23,258.6 293.24,257.37 295.26,254.92 297.28,257.09 299.3,257.95 301.32,259.25 303.33,256.1 305.35,256.57 307.37,254.06 309.39,252.43 311.41,252.68 313.42,250 315.44,251.1 317.46,246.99 319.48,246.28 321.5,241.52 323.51,242.61 325.53,236.83 327.55,234.41 329.57,233.81 331.59,230.69 333.61,231.38 335.62,232.52 337.64,226.43 339.66,227.29 341.68,226.41 343.7,224.34 345.71,220.94 347.73,218.23 349.75,216.4 351.77,214.43 353.79,211.49 355.8,211.33 357.82,207.91 359.84,208.45 361.86,214.6 363.88,214.44 365.89,217.29 367.91,213.81 369.93,212.57 371.95,209.25 373.97,207.7 375.98,200.51 378,196.06 380.02,191.05 382.04,186.02 384.06,190.18 386.07,183.71 388.09,186.3 390.11,180.9 392.13,181.82 394.15,178.12 396.17,173.39 398.18,174.35 400.2,169.62 402.22,164.03 404.24,161.01 406.26,157.42 408.27,152.27 410.29,151.64 412.31,146.41 414.33,145.89 416.35,142.65 418.36,141.23 420.38,138.47 422.4,141.1 424.42,136.94 426.44,136.68 428.45,131.83 430.47,129.33 432.49,131.18 434.51,131.7 436.53,133.56 438.54,133.78 440.56,133.4 442.58,126.91 444.6,123.17 446.62,121.84 448.64,113.5 450.65,110.17 452.67,108.14 454.69,104.78 456.71,97.32 458.73,97.4 460.74,93.54 462.76,90.28 464.78,92.09 466.8,96.52 468.82,104.82 470.83,111.49 472.85,121.27 474.87,127.13 476.89,135.95 478.91,142.27 480.92,150.42 482.94,160.97 484.96,162.3 486.98,154.5 489,154.8 491.01,161 493.03,168.13 495.05,173.48 497.07,167.64 499.09,161.11 501.1,159.26 503.12,160.9 505.14,153.88 507.16,151.73 509.18,154.51 511.2,157.19 513.21,164.09 515.23,169.42 517.25,178.06 519.27,188.73 521.29,197.77 523.3,203.98 525.32,206.09 527.34,206.27 529.36,214.35 531.38,216.85 533.39,228.2 535.41,230 537.43,223.62 539.45,205.98 541.47,196.04 543.48,189.26 545.5,185.39 547.52,176.9 549.54,169.18 551.56,168.96 553.57,166.45 555.59,157.26 557.61,149.25 559.63,150.56 561.65,147.03 563.67,144.74 565.68,143.24 567.7,141.42 569.72,154.16 571.74,160.68 573.76,159.45 575.77,157.6 577.79,159.16 579.81,158.31 581.83,154.74 583.85,143.6 585.86,136.25 587.88,132.31 589.9,136.67 591.92,140.13 593.94,137.44 595.95,141.23 597.97,146.2 599.99,152.44 602.01,149.14 604.03,155.9 606.04,151.81 608.06,148.22 610.08,144.41 612.1,147.46 614.12,147.9 616.13,145.19 618.15,143.19 620.17,136.99 622.19,138.06 624.21,134.77 626.23,130.93 628.24,132 630.26,127.54 632.28,124.52 634.3,132.1 636.32,136.48 638.33,136.87 640.35,138.98 642.37,142.94 644.39,148.54 646.41,149.23 648.42,152.62 650.44,155.13 652.46,156.31 654.48,158.27 656.5,157.8 658.51,157.49 660.53,155.77 662.55,157.43 664.57,154.06 666.59,154.4 668.6,147.37 670.62,147.05 672.64,143.6 674.66,138.79 676.68,142.09 678.7,139.16 680.71,135.78 682.73,137.38 684.75,135.22 686.77,134.94 688.79,144.26 690.8,143.18 692.82,139.5 694.84,133.88 696.86,132.42 698.88,129.09 700.89,128.69 702.91,125.86 704.93,124.85 706.95,128.94 708.97,127.45 710.98,127.81 713,121.84 715.02,122.96 717.04,118.4 719.06,116.63 721.07,114.86 723.09,113.25 725.11,112.56 727.13,108.87 729.15,106.15 731.16,103.43 733.18,102.16 735.2,97.24 737.22,94.92 739.24,92.54 741.26,92.6 743.27,96.55 745.29,95.41 747.31,99.44 749.33,106.82 751.35,109.41 753.36,112.17 755.38,113.86 757.4,112.74 759.42,114.62 761.44,119.14 763.45,130.39 765.47,144.62 767.49,165.43 769.51,166.02 771.53,156.88 773.54,142.91 775.56,141.43 777.58,142.97 779.6,141.1 781.62,139.46 783.63,137.61 785.65,133.92 787.67,129.7 789.69,129.08 791.71,129.03 793.73,124.25 795.74,124.13 797.76,120.99 799.78,121.18 801.8,114.62 803.82,111.58 805.83,111.41 807.85,105.31 809.87,107.01 811.89,111.14 813.91,114.31 815.92,115.31 817.94,111.81 819.96,106.27 821.98,104.85 824,102.8 826.01,104 828.03,103.6 830.05,99.15 832.07,93.92 834.09,92.26 836.1,89.98 838.12,89.39 840.14,87.78 842.16,98.68 844.18,98.6 846.19,98.15 848.21,100.82 850.23,103.37 852.25,107.91 854.27,113.87 856.29,118.46 858.3,118.1 860.32,119.6 862.34,116.61 864.36,119.2 866.38,112.02 868.39,109.89 870.41,109.14 872.43,106.76 874.45,104.71 876.47,103.59 878.48,107.15 880.5,107.31 882.52,111.2 884.54,114.64 886.56,113.94 888.57,116.74 890.59,120.96 892.61,129.67 894.63,136 896.65,139.39 898.66,145.58 900.68,146.28 902.7,150.89 904.72,150.66 906.74,152.59 908.76,152.57 910.77,157.46 912.79,160.14 914.81,164.18 916.83,168.42 918.85,171.18 920.86,170.78 922.88,166.7 924.9,157.19 926.92,160.76 928.94,164.59 930.95,159.36 932.97,155.97 934.99,150.67 937.01,145.4 939.03,139.24 941.04,139.56 943.06,138.77 945.08,138.35 947.1,140.47 949.12,143.59 951.13,143.82 953.15,142.94 955.17,150.41 957.19,149.77 959.21,153.14 961.22,153.14 963.24,157.18 965.26,158.82 967.28,165.02 969.3,160.6 971.32,163.34 973.33,157.5 975.35,157.7 977.37,152.87 979.39,153.48 981.41,153.28 983.42,148.65 985.44,151.6 987.46,147.42 989.48,143.99 991.5,143.39 993.51,141.15 995.53,140.97 997.55,143.15 999.57,146.06 1001.59,148.33 1003.6,148.13 1005.62,148.24 1007.64,147.97 1009.66,146.51 1011.68,145.07 1013.69,151.34 1015.71,152.01 1017.73,152.93 1019.75,156.49 1021.77,153 1023.79,155.32 1025.8,151.11 1027.82,154.82 1029.84,154.42 1031.86,155.07 1033.88,158.09 1035.89,157.44 1037.91,159.82 1039.93,159.59 1041.95,159.59 1043.97,162.41 1045.98,162.62 1048,163.72 1050.02,160.83 1052.04,163.94 1054.06,162.31 1056.07,168.35 1058.09,167.89 1060.11,170.88 1062.13,176.55 1064.15,180.19 1066.16,177.44 1068.18,179.38 1070.2,179.3 1072.22,175.59 1074.24,174.73 1076.25,171.25 1078.27,171.98 1080.29,173.49 1082.31,170.06 1084.33,171.29 1086.35,165.82 1088.36,162.2 1090.38,158.24 1092.4,163.37 1094.42,158.62 1096.44,160.48 1098.45,159.83 1100.47,160.46 1102.49,161.23 1104.51,164.71 1106.53,160.92 1108.54,162.79 1110.56,164.49 1112.58,163.79 1114.6,166.67 1116.62,165.68 1118.63,163.32 1120.65,164.34 1122.67,167.93 1124.69,171.68 1126.71,165.61" stroke="#e377c2" stroke-width="3.47" stroke-linecap="square"/>
<polyline points="129.78,279.7 131.8,281.76 133.82,279.55 135.83,278.01 137.85,277.4 139.87,273.9 141.89,273.96 143.91,271.26 145.92,268.98 147.94,268.16 149.96,270.19 151.98,275.22 154,277.4 156.01,281.12 158.03,282.53 160.05,281.84 162.07,284.75 164.09,287.09 166.11,286.7 168.12,286.85 170.14,287.88 172.16,287.25 174.18,290.92 176.2,289.85 178.21,291.18 180.23,291.17 182.25,293.21 184.27,295.73 186.29,298.33 188.3,298.56 190.32,300.91 192.34,302.21 194.36,302.59 196.38,304.42 198.39,299.82 200.41,298.66 202.43,292.65 204.45,288.98 206.47,291.71 208.48,290.64 210.5,291.22 212.52,291.99 214.54,288.16 216.56,287.2 218.58,289.44 220.59,289.42 222.61,290.41 224.63,288.39 226.65,290.93 228.67,290.06 230.68,289.4 232.7,288.15 234.72,288.59 236.74,283.31 238.76,285.21 240.77,282.19 242.79,281.35 244.81,280.45 246.83,279.41 248.85,280.96 250.86,282.65 252.88,282.92 254.9,283.74 256.92,282.63 258.94,287.2 260.95,287.73 262.97,287.7 264.99,287.28 267.01,284.35 269.03,287.52 271.04,285.1 273.06,284.08 275.08,290.42 277.1,282.94 279.12,280.64 281.14,279.28 283.15,280.41 285.17,276.27 287.19,276.95 289.21,277.53 291.23,275.55 293.24,272.41 295.26,272.17 297.28,270.42 299.3,271.18 301.32,271.84 303.33,270.71 305.35,269.85 307.37,270.64 309.39,267.38 311.41,268.73 313.42,268.87 315.44,267.55 317.46,266.74 319.48,264.1 321.5,262.02 323.51,261.75 325.53,257.98 327.55,255.84 329.57,257.04 331.59,253.83 333.61,253.63 335.62,249.82 337.64,251.59 339.66,249.58 341.68,247.51 343.7,243.82 345.71,244.67 347.73,242.24 349.75,237.9 351.77,234.75 353.79,234.01 355.8,233.49 357.82,228.52 359.84,233.77 361.86,232.34 363.88,231.17 365.89,231.41 367.91,229.14 369.93,227.35 371.95,226.76 373.97,226.38 375.98,223.4 378,223.73 380.02,223.68 382.04,222.53 384.06,217.22 386.07,216.98 388.09,216.24 390.11,216.59 392.13,213.2 394.15,214.85 396.17,210.48 398.18,212.76 400.2,212.24 402.22,212.52 404.24,211.33 406.26,204.98 408.27,203.05 410.29,200.48 412.31,195.5 414.33,191.87 416.35,193.97 418.36,190.92 420.38,190 422.4,186.73 424.42,187.17 426.44,182.72 428.45,183.1 430.47,180.61 432.49,191.82 434.51,203.25 436.53,204.74 438.54,208.02 440.56,205.52 442.58,197.13 444.6,191.98 446.62,185.46 448.64,182.29 450.65,174.9 452.67,171.92 454.69,169.92 456.71,167.22 458.73,163.35 460.74,158.67 462.76,158.87 464.78,159.49 466.8,161.93 468.82,167.74 470.83,173.37 472.85,173.74 474.87,172.4 476.89,170.15 478.91,176.57 480.92,193.35 482.94,210.59 484.96,215.97 486.98,211.24 489,211.06 491.01,212.64 493.03,213.68 495.05,220.19 497.07,232.86 499.09,236.43 501.1,232.51 503.12,224.69 505.14,220.02 507.16,218.68 509.18,219.29 511.2,223.44 513.21,223.99 515.23,230.29 517.25,237.92 519.27,239.59 521.29,235.57 523.3,236.01 525.32,238.81 527.34,242.14 529.36,249.77 531.38,257.86 533.39,264.63 535.41,267.32 537.43,260.78 539.45,249.03 541.47,247.71 543.48,243.34 545.5,236.58 547.52,224.31 549.54,217.7 551.56,220.33 553.57,214.77 555.59,212.57 557.61,210.55 559.63,207.07 561.65,209.6 563.67,211.03 565.68,202.48 567.7,201.36 569.72,214.92 571.74,217.37 573.76,215.93 575.77,222.01 577.79,216.9 579.81,216.5 581.83,212.43 583.85,204.39 585.86,199.28 587.88,200.54 589.9,203.7 591.92,205.93 593.94,207.33 595.95,206.76 597.97,214.69 599.99,214.09 602.01,220.43 604.03,221.23 606.04,221.1 608.06,219.51 610.08,216.8 612.1,215.94 614.12,213.57 616.13,215.27 618.15,215.84 620.17,213.94 622.19,211 624.21,208.52 626.23,204.72 628.24,205.67 630.26,200.3 632.28,200.05 634.3,200.56 636.32,202.18 638.33,203.55 640.35,208.32 642.37,210.87 644.39,218.24 646.41,231.59 648.42,232.8 650.44,232 652.46,232.09 654.48,230.9 656.5,228.93 658.51,232.07 660.53,234.07 662.55,233.65 664.57,234.8 666.59,236.16 668.6,231.51 670.62,232.65 672.64,230.46 674.66,232.38 676.68,225.01 678.7,226.45 680.71,223.95 682.73,223.41 684.75,220.69 686.77,225.92 688.79,226.69 690.8,233.09 692.82,227.5 694.84,224.53 696.86,225.12 698.88,221.59 700.89,219.38 702.91,220.19 704.93,215.82 706.95,218.41 708.97,220.3 710.98,224.15 713,231.15 715.02,225.13 717.04,221.3 719.06,221.54 721.07,219.91 723.09,218.3 725.11,218.59 727.13,214.31 729.15,211.12 731.16,213.27 733.18,208.64 735.2,207.15 737.22,204.05 739.24,205.82 741.26,206.29 743.27,209.09 745.29,207.41 747.31,207.79 749.33,211.48 751.35,213.08 753.36,218.48 755.38,218.69 757.4,220.35 759.42,215.57 761.44,219.32 763.45,231.92 765.47,240.26 767.49,250.85 769.51,259.01 771.53,254.48 773.54,249.52 775.56,246.87 777.58,241.66 779.6,244.6 781.62,243.33 783.63,243.62 785.65,241.56 787.67,240.16 789.69,232.66 791.71,234.07 793.73,232.29 795.74,233.21 797.76,227.84 799.78,227.69 801.8,225.92 803.82,222.43 805.83,221.35 807.85,220.95 809.87,217.58 811.89,222.04 813.91,226.07 815.92,226.52 817.94,222.77 819.96,217.85 821.98,218.34 824,217.28 826.01,215.31 828.03,214.61 830.05,213.86 832.07,215.25 834.09,211.88 836.1,212.94 838.12,216.75 840.14,222.3 842.16,219.53 844.18,221.39 846.19,219.97 848.21,224.68 850.23,224.19 852.25,229.61 854.27,236.85 856.29,234.7 858.3,233.95 860.32,235.15 862.34,235.47 864.36,236.4 866.38,233.05 868.39,231.29 870.41,233.25 872.43,233.88 874.45,234.86 876.47,237.39 878.48,236.47 880.5,238.64 882.52,236.91 884.54,241.47 886.56,243.05 888.57,241.7 890.59,243.61 892.61,247.79 894.63,254 896.65,252.01 898.66,256.5 900.68,258.16 902.7,258.23 904.72,256.54 906.74,259.86 908.76,260.73 910.77,264.73 912.79,269.24 914.81,273.11 916.83,275.57 918.85,276.15 920.86,272.86 922.88,273.75 924.9,273.54 926.92,271.72 928.94,275.26 930.95,271.62 932.97,271.08 934.99,267.44 937.01,263.41 939.03,257.62 941.04,259.1 943.06,258.8 945.08,260.11 947.1,263.01 949.12,259.54 951.13,265.13 953.15,263.46 955.17,266.94 957.19,265.61 959.21,266.13 961.22,269.43 963.24,271.56 965.26,272.16 967.28,273.12 969.3,271.57 971.32,268.68 973.33,271.45 975.35,267.94 977.37,267.33 979.39,267.51 981.41,268.11 983.42,264.66 985.44,263.66 987.46,261.43 989.48,259.93 991.5,253.58 993.51,256.26 995.53,251.85 997.55,255.23 999.57,261.56 1001.59,258.43 1003.6,256.56 1005.62,257.4 1007.64,257.58 1009.66,256.24 1011.68,256.34 1013.69,261.29 1015.71,262.5 1017.73,258.56 1019.75,258.55 1021.77,255.51 1023.79,253.03 1025.8,251.34 1027.82,250.5 1029.84,251.17 1031.86,251.43 1033.88,252.93 1035.89,255.87 1037.91,254.9 1039.93,257.25 1041.95,258.33 1043.97,258.37 1045.98,261.89 1048,257.75 1050.02,261.48 1052.04,259.17 1054.06,263.36 1056.07,263.03 1058.09,259.96 1060.11,266.17 1062.13,270.81 1064.15,273.97 1066.16,274.96 1068.18,272.93 1070.2,272.93 1072.22,270.89 1074.24,267.82 1076.25,268.25 1078.27,262.39 1080.29,267 1082.31,263.33 1084.33,266.78 1086.35,262.86 1088.36,259.74 1090.38,258.26 1092.4,254.92 1094.42,254.58 1096.44,252.72 1098.45,254.05 1100.47,253.4 1102.49,254.82 1104.51,254.04 1106.53,255.67 1108.54,252.71 1110.56,252.65 1112.58,254.58 1114.6,255.88 1116.62,255.62 1118.63,258.49 1120.65,260.57 1122.67,262.86 1124.69,263.47 1126.71,268.51" stroke="#7f7f7f" stroke-width="3.47" stroke-linecap="square"/>
<polyline points="129.78,279.7 131.8,275.53 133.82,271.55 135.83,274.46 137.85,273.91 139.87,268.15 141.89,262.93 143.91,256.04 145.92,255.21 147.94,255.11 149.96,252.74 151.98,250.64 154,261.89 156.01,268.99 158.03,274.75 160.05,276.77 162.07,284.03 164.09,283.56 166.11,286.11 168.12,288.89 170.14,301.15 172.16,306.03 174.18,302.21 176.2,294.57 178.21,288.07 180.23,278.19 182.25,282.98 184.27,293.32 186.29,303.46 188.3,303.08 190.32,298.32 192.34,301.16 194.36,309.39 196.38,314.99 198.39,311.25 200.41,310.6 202.43,306.34 204.45,299.88 206.47,298.69 208.48,298.19 210.5,299.53 212.52,300.83 214.54,299.16 216.56,296.89 218.58,292.64 220.59,298.53 222.61,293.35 224.63,290.72 226.65,293.36 228.67,289.37 230.68,285.77 232.7,285.42 234.72,282.38 236.74,276.36 238.76,272.22 240.77,265.9 242.79,264.36 244.81,262.96 246.83,263.28 248.85,267.54 250.86,265.93 252.88,265.79 254.9,265.79 256.92,269.28 258.94,270.91 260.95,273.34 262.97,274.31 264.99,272.18 267.01,275.36 269.03,278.17 271.04,273.79 273.06,275.64 275.08,273.8 277.1,273.86 279.12,270.9 281.14,266.95 283.15,263.38 285.17,259.52 287.19,257.73 289.21,250.24 291.23,248.6 293.24,247.37 295.26,245.05 297.28,248.23 299.3,250.1 301.32,252.41 303.33,250.26 305.35,251.48 307.37,248.47 309.39,246.34 311.41,246.08 313.42,242.89 315.44,243.16 317.46,237.02 319.48,234.3 321.5,229.02 323.51,230.11 325.53,224.59 327.55,223.18 329.57,223.59 331.59,222.28 333.61,224.98 335.62,227.52 337.64,221.43 339.66,222.29 341.68,219.74 343.7,215.64 345.71,209.52 347.73,202.76 349.75,196.9 351.77,192.22 353.79,186.76 355.8,188.09 357.82,191.28 359.84,193.33 361.86,201.46 363.88,199.87 365.89,199.92 367.91,193.92 369.93,190.16 371.95,190.16 373.97,192.14 375.98,187.01 378,183.06 380.02,178.54 382.04,172.51 384.06,175.65 386.07,168.45 388.09,170.53 390.11,164.62 392.13,165.04 394.15,160.83 396.17,155.6 398.18,156.06 400.2,150.82 402.22,144.73 404.24,141.2 406.26,137.74 408.27,133.09 410.29,132.67 412.31,125.93 414.33,123.89 416.35,122.17 418.36,123.78 420.38,123.09 422.4,123.7 424.42,117.52 426.44,114.53 428.45,106.65 430.47,102.06 432.49,104.93 434.51,118.5 436.53,133.49 438.54,140.55 440.56,138.08 442.58,121.51 444.6,107.68 446.62,102.72 448.64,92.36 450.65,87.67 452.67,85.64 454.69,82.28 456.71,74.82 458.73,74.9 460.74,70.3 462.76,66.06 464.78,73.93 466.8,77.48 468.82,84.93 470.83,91.21 472.85,100.61 474.87,106.09 476.89,114.52 478.91,120.46 480.92,128.22 482.94,141.79 484.96,158.25 486.98,148.77 489,137.32 491.01,136 493.03,145.26 495.05,158.89 497.07,169.19 499.09,174.05 501.1,172.9 503.12,169.34 505.14,161.24 507.16,157.08 509.18,152.8 511.2,152.19 513.21,161.23 515.23,172.15 517.25,182.81 519.27,194.62 521.29,196.95 523.3,192.46 525.32,187.05 527.34,193.29 529.36,206.5 531.38,207.16 533.39,216.15 535.41,215.66 537.43,194.15 539.45,189.62 541.47,185.74 543.48,181.98 545.5,177.87 547.52,159.38 549.54,149.64 551.56,147.4 553.57,145.02 555.59,138.44 557.61,134.2 559.63,134.49 561.65,137.36 563.67,133.83 565.68,129.56 567.7,133.79 569.72,138.96 571.74,144.43 573.76,143.2 575.77,141.73 577.79,143.87 579.81,141 581.83,131.76 583.85,123.31 585.86,123.02 587.88,124.43 589.9,126.77 591.92,133.97 593.94,136.03 595.95,142.01 597.97,146.91 599.99,156.17 602.01,149.88 604.03,151.33 606.04,145.36 608.06,143.5 610.08,140.7 612.1,144.75 614.12,144.59 616.13,141.44 618.15,141.07 620.17,139.58 622.19,141.65 624.21,139.37 626.23,133.47 628.24,130.51 630.26,122.63 632.28,120.28 634.3,124.23 636.32,127.93 638.33,129.37 640.35,134.15 642.37,139.13 644.39,153.39 646.41,172.22 648.42,173.93 650.44,174.91 652.46,175.08 654.48,176.03 656.5,176.05 658.51,176.75 660.53,176.03 662.55,178.71 664.57,176.34 666.59,174.52 668.6,167.23 670.62,168.92 672.64,167.49 674.66,164.7 676.68,168.34 678.7,166 680.71,163.64 682.73,166.01 684.75,162.84 686.77,157.14 688.79,169.4 690.8,173.58 692.82,170.91 694.84,166.3 696.86,166.78 698.88,165.47 700.89,165.74 702.91,161.91 704.93,159.89 706.95,163.94 708.97,162.45 710.98,166.75 713,168.85 715.02,177.91 717.04,168.3 719.06,161.49 721.07,156.82 723.09,154.2 725.11,152.61 727.13,149.93 729.15,148.22 731.16,145.35 733.18,143.07 735.2,137.24 737.22,134.92 739.24,132.54 741.26,129.47 743.27,128.37 745.29,123.2 747.31,129.25 749.33,136.82 751.35,140.76 753.36,145.54 755.38,149.24 757.4,150.14 759.42,154.04 761.44,157.7 763.45,165.98 765.47,175.7 767.49,190.46 769.51,203.07 771.53,210.62 773.54,204.36 775.56,202.28 777.58,206.6 779.6,201.7 781.62,201.07 783.63,201.24 785.65,197.29 787.67,188.54 789.69,188.93 791.71,191.59 793.73,189.84 795.74,191.63 797.76,188.49 799.78,188.68 801.8,183.02 803.82,180.99 805.83,181.41 807.85,175.31 809.87,177.01 811.89,178.31 813.91,182.67 815.92,187.16 817.94,187.03 819.96,182.5 821.98,182.09 824,178.81 826.01,177.99 828.03,177.17 830.05,176.75 832.07,175.56 834.09,175.29 836.1,174.24 838.12,174.08 840.14,172.36 842.16,177.2 844.18,180.29 846.19,182.5 848.21,186.17 850.23,189.39 852.25,191.91 854.27,195.85 856.29,200.35 858.3,199.4 860.32,198.35 862.34,195.36 864.36,199.5 866.38,196.06 868.39,198.65 870.41,202.87 872.43,206.55 874.45,210.56 876.47,210.35 878.48,212.91 880.5,212.31 882.52,216.2 884.54,219.64 886.56,217.39 888.57,218.16 890.59,221.25 892.61,230.65 894.63,231.93 896.65,239.33 898.66,242.26 900.68,236.28 902.7,240.89 904.72,240.66 906.74,243.46 908.76,244.45 910.77,250.73 912.79,255.73 914.81,263.8 916.83,272.07 918.85,268.11 920.86,262.94 922.88,263.9 924.9,259.44 926.92,259.42 928.94,259.22 930.95,256.63 932.97,260.02 934.99,250.69 937.01,238.37 939.03,228.2 941.04,226.27 943.06,223.97 945.08,222.08 947.1,223.7 949.12,226.31 951.13,226.32 953.15,225.44 955.17,232.74 957.19,230.08 959.21,231.44 961.22,231.25 963.24,237.04 965.26,241.32 967.28,247.52 969.3,243.1 971.32,244.52 973.33,236.67 975.35,235.37 977.37,231.56 979.39,233.18 981.41,233.28 983.42,228.65 985.44,230.28 987.46,220.04 989.48,217.48 991.5,217.89 993.51,216.49 995.53,215.65 997.55,220.4 999.57,229.69 1001.59,233.33 1003.6,233.13 1005.62,233.55 1007.64,234.29 1009.66,233.84 1011.68,231.73 1013.69,236.99 1015.71,235.58 1017.73,232.47 1019.75,231.99 1021.77,228 1023.79,230.32 1025.8,226.11 1027.82,229.82 1029.84,229.42 1031.86,229.14 1033.88,231.16 1035.89,229.49 1037.91,230.86 1039.93,229.62 1041.95,228.61 1043.97,230.43 1045.98,229.63 1048,229.72 1050.02,225.85 1052.04,230.98 1054.06,231.37 1056.07,237.28 1058.09,234.8 1060.11,235.88 1062.13,241.55 1064.15,245.19 1066.16,240.11 1068.18,239.38 1070.2,239.4 1072.22,236.7 1074.24,236.84 1076.25,233.13 1078.27,232.85 1080.29,233.63 1082.31,231.21 1084.33,233.46 1086.35,232.36 1088.36,230.48 1090.38,223.24 1092.4,228.37 1094.42,223.62 1096.44,225.48 1098.45,224.83 1100.47,224.99 1102.49,223.74 1104.51,225.2 1106.53,220.16 1108.54,221.02 1110.56,222.56 1112.58,223.87 1114.6,228.76 1116.62,234.64 1118.63,236.96 1120.65,239.34 1122.67,243.02 1124.69,247.78 1126.71,244.42" stroke="#bcbd22" stroke-width="3.47" stroke-linecap="square"/>
<polyline points="129.78,279.7 131.8,278.94 133.82,278.19 135.83,278.83 137.85,276.99 139.87,274.6 141.89,271.68 143.91,264.76 145.92,263.52 147.94,263.02 149.96,260.25 151.98,261.44 154,261.73 156.01,265.21 158.03,267.7 160.05,266.77 162.07,274.03 164.09,276.73 166.11,281.39 168.12,281.87 170.14,285.76 172.16,285.09 174.18,289.14 176.2,288.21 178.21,286.82 180.23,283.31 182.25,289.11 184.27,290.73 186.29,292.71 188.3,292.51 190.32,296.59 192.34,296.4 194.36,297.89 196.38,301.24 198.39,298.85 200.41,301.11 202.43,299.38 204.45,294.47 206.47,295.16 208.48,295.2 210.5,294.65 212.52,291.48 214.54,292.33 216.56,293.37 218.58,289.43 220.59,294.13 222.61,290.9 224.63,289.29 226.65,291.7 228.67,287.2 230.68,283.78 232.7,284.94 234.72,283.42 236.74,280.22 238.76,279.73 240.77,276.28 242.79,275.61 244.81,274.21 246.83,271.79 248.85,275.04 250.86,274.29 252.88,275.41 254.9,273.39 256.92,275.34 258.94,276.03 260.95,277.76 262.97,278.01 264.99,275.18 267.01,277.16 269.03,278.75 271.04,274.57 273.06,277.93 275.08,277.53 277.1,277.09 279.12,273.63 281.14,270.58 283.15,269.04 285.17,267.2 287.19,267.42 289.21,261.94 291.23,261.1 293.24,259.87 295.26,257.11 297.28,256.85 299.3,255.29 301.32,256.8 303.33,255.26 305.35,257.18 307.37,255.27 309.39,254.25 311.41,255.1 313.42,253.03 315.44,254.96 317.46,252.45 319.48,253.37 321.5,249.02 323.51,250.11 325.53,244.59 327.55,243.18 329.57,243.59 331.59,239.9 333.61,239.58 335.62,239.71 337.64,232.61 339.66,232.46 341.68,231.41 343.7,229.34 345.71,226.3 347.73,224.59 349.75,223.77 351.77,221.04 353.79,217.1 355.8,217.4 357.82,215.71 359.84,212.88 361.86,213.81 363.88,210.33 365.89,211.95 367.91,208.64 369.93,207.56 371.95,204.74 373.97,203.69 375.98,198.98 378,199.07 380.02,198.54 382.04,192.51 384.06,195.65 386.07,188.71 388.09,191.3 390.11,185.9 392.13,186.82 394.15,183.12 396.17,178.98 398.18,180.94 400.2,177.22 402.22,172.64 404.24,170.63 406.26,168.37 408.27,164.72 410.29,165.32 412.31,159.59 414.33,158.56 416.35,154.48 418.36,152.05 420.38,148.09 422.4,148.7 424.42,142.52 426.44,143.12 428.45,140.29 430.47,138.85 432.49,138.69 434.51,137.19 436.53,136.66 438.54,134.35 440.56,133.13 442.58,130.18 444.6,129.97 446.62,129.34 448.64,121 450.65,117.67 452.67,115.64 454.69,112.28 456.71,104.82 458.73,104.9 460.74,100.3 462.76,95.02 464.78,94.81 466.8,94.96 468.82,98.71 470.83,100.82 472.85,106.05 474.87,107.35 476.89,111.62 478.91,113.38 480.92,116.97 482.94,123.58 484.96,123.08 486.98,128.31 489,130.7 491.01,134.48 493.03,139.65 495.05,146.29 497.07,152.55 499.09,154.17 501.1,153.31 503.12,155.26 505.14,158.13 507.16,163.04 509.18,160.3 511.2,157.3 513.21,158.38 515.23,154.74 517.25,155.31 519.27,157.91 521.29,159.52 523.3,163.89 525.32,172.05 527.34,178.29 529.36,184.06 531.38,181.47 533.39,188.56 535.41,193.49 537.43,210.32 539.45,205.17 541.47,200.74 543.48,195.01 545.5,194.41 547.52,201.88 549.54,192.14 551.56,186.79 553.57,178.22 555.59,167.13 557.61,166.64 559.63,165.93 561.65,162.03 563.67,158.58 565.68,155.4 567.7,151.16 569.72,148.76 571.74,147.96 573.76,143.19 575.77,142.8 577.79,150.99 579.81,154.18 581.83,160.13 583.85,159.08 585.86,158.8 587.88,155.78 589.9,152.07 591.92,145.54 593.94,137.07 595.95,137.78 597.97,140.49 599.99,143.7 602.01,142.4 604.03,151.18 606.04,152.24 608.06,155.31 610.08,154.29 612.1,154.31 614.12,152.53 616.13,149.51 618.15,148.84 620.17,144.49 622.19,145.56 624.21,142.27 626.23,138.43 628.24,139.5 630.26,135.17 632.28,133.16 634.3,136.35 636.32,137.01 638.33,134.37 640.35,133.63 642.37,135.57 644.39,139.15 646.41,139.23 648.42,142.62 650.44,145.13 652.46,146.31 654.48,148.27 656.5,147.8 658.51,147.49 660.53,146.03 662.55,148.71 664.57,146.34 666.59,148.48 668.6,143.48 670.62,144.86 672.64,142.42 674.66,138.62 676.68,141.25 678.7,137.31 680.71,133.64 682.73,136.24 684.75,135.09 686.77,130.52 688.79,134.79 690.8,131.89 692.82,131.23 694.84,128.64 696.86,129.28 698.88,127.97 700.89,128.24 702.91,124.41 704.93,122.39 706.95,122.54 708.97,117.02 710.98,117.28 713,115.34 715.02,120.46 717.04,115.9 719.06,114.13 721.07,112.36 723.09,110.75 725.11,110.11 727.13,107.43 729.15,105.72 731.16,104.01 733.18,103.75 735.2,99.63 737.22,96.31 739.24,92.92 741.26,90.09 743.27,90 745.29,84.68 747.31,83.67 749.33,82.35 751.35,82.58 753.36,86.35 755.38,89.24 757.4,90.14 759.42,94.04 761.44,96.27 763.45,98.71 765.47,97.64 767.49,99.28 769.51,96.76 771.53,114.36 773.54,131.48 775.56,151.46 777.58,161.6 779.6,156.7 781.62,155.26 783.63,154.43 785.65,151.09 787.67,145.87 789.69,144.24 791.71,144.88 793.73,141.12 795.74,140.88 797.76,135.72 799.78,133.9 801.8,128.92 803.82,127.89 805.83,128.07 807.85,119.95 809.87,119.64 811.89,117.03 813.91,113.14 815.92,113.55 817.94,116.22 819.96,113.71 821.98,113.34 824,111.55 826.01,112.75 828.03,112.89 830.05,110.43 832.07,106.21 834.09,105.29 836.1,104.79 838.12,105.64 840.14,104.37 842.16,102.15 844.18,99.01 846.19,96.36 848.21,96 850.23,95.87 852.25,100.41 854.27,106.37 856.29,110.31 858.3,108.95 860.32,109.93 862.34,108.95 864.36,113.56 866.38,111.14 868.39,115.07 870.41,119.34 872.43,117.97 874.45,116.94 876.47,116.09 878.48,119.65 880.5,119.56 882.52,122.44 884.54,124.87 886.56,121.61 888.57,121.37 890.59,121.98 892.61,125.65 894.63,126.93 896.65,129.39 898.66,135.58 900.68,137.65 902.7,146.3 904.72,150.1 906.74,152.59 908.76,152.57 910.77,156.69 912.79,157.35 914.81,159.37 916.83,161.59 918.85,162.33 920.86,165.96 922.88,173.99 924.9,176.59 926.92,179.8 928.94,182.63 930.95,177.34 932.97,174.95 934.99,170.66 937.01,165.4 939.03,159.24 941.04,157.47 943.06,152.65 945.08,148.31 947.1,149.42 949.12,151.53 951.13,150.75 953.15,148.87 955.17,155.32 957.19,153.67 959.21,156.04 961.22,154.42 963.24,156.44 965.26,156.45 967.28,163.66 969.3,160.25 971.32,165.97 973.33,164.17 975.35,168.23 977.37,166.43 979.39,170.07 981.41,170.07 983.42,164.44 985.44,166.6 987.46,162.42 989.48,158.99 991.5,159.89 993.51,159.66 995.53,159.38 997.55,155.5 999.57,152.35 1001.59,152.53 1003.6,151.32 1005.62,151.05 1007.64,151.79 1009.66,151.34 1011.68,150.07 1013.69,156.34 1015.71,156.65 1017.73,156.57 1019.75,159.12 1021.77,156.38 1023.79,159.72 1025.8,155.71 1027.82,158.41 1029.84,157 1031.86,156.64 1033.88,158.66 1035.89,157.44 1037.91,159.82 1039.93,159.59 1041.95,159.59 1043.97,162.41 1045.98,163.11 1048,165.22 1050.02,163.33 1052.04,166.44 1054.06,164.81 1056.07,169.78 1058.09,167.3 1060.11,168.32 1062.13,172.99 1064.15,175.61 1066.16,174.19 1068.18,179.15 1070.2,182.2 1072.22,182.53 1074.24,185.7 1076.25,182.5 1078.27,181.21 1080.29,180.84 1082.31,176.41 1084.33,176.63 1086.35,172.17 1088.36,170.57 1090.38,167.67 1092.4,169.77 1094.42,161.99 1096.44,161.55 1098.45,158.88 1100.47,157.49 1102.49,156.24 1104.51,157.7 1106.53,153.42 1108.54,155.29 1110.56,156.99 1112.58,156.29 1114.6,159.17 1116.62,159.79 1118.63,159.46 1120.65,161.52 1122.67,164.1 1124.69,166.84 1126.71,161.46 1128.72,169.01 1130.74,166.2 1132.76,170.79 1134.78,167.95" stroke="#17becf" stroke-width="2.5" stroke-dasharray="9.25 4" stroke-linecap="butt"/>
<polyline points="129.78,279.7 131.8,284.25 133.82,286.31 135.83,292.74 137.85,293.45 139.87,289.31 141.89,293.34 143.91,299.81 145.92,291.02 147.94,284.57 149.96,278.1 151.98,269.12 154,271.06 156.01,269.27 158.03,272.06 160.05,274.62 162.07,278.61 164.09,281.57 166.11,283.78 168.12,284.49 170.14,299.6 172.16,304.48 174.18,308.71 176.2,310.81 178.21,314.57 180.23,318.01 182.25,319.51 184.27,318.81 186.29,323.82 188.3,325.32 190.32,317.72 192.34,323.94 194.36,321.49 196.38,321.09 198.39,323.22 200.41,317.91 202.43,316.02 204.45,315.89 206.47,314.91 208.48,317.54 210.5,319.38 212.52,319.31 214.54,319.25 216.56,316.94 218.58,324.16 220.59,322.27 222.61,324.04 224.63,321.47 226.65,318.07 228.67,322.33 230.68,319.03 232.7,319.93 234.72,321.74 236.74,316.63 238.76,315.42 240.77,315.47 242.79,310.49 244.81,312.09 246.83,316.01 248.85,318.07 250.86,321.03 252.88,323.84 254.9,324.28 256.92,324.69 258.94,326.77 260.95,327.56 262.97,327.53 264.99,331.64 267.01,328.23 269.03,328.24 271.04,329.71 273.06,330.46 275.08,329.17 277.1,326.82 279.12,325.55 281.14,327.43 283.15,324.76 285.17,324.65 287.19,325.75 289.21,321.4 291.23,321.71 293.24,321.8 295.26,320.94 297.28,316.37 299.3,319.53 301.32,316.96 303.33,315.56 305.35,314.87 307.37,313.21 309.39,309.2 311.41,302.04 313.42,304.25 315.44,303.31 317.46,309.49 319.48,311.33 321.5,311.08 323.51,301.48 325.53,301.12 327.55,299.27 329.57,297.94 331.59,294.34 333.61,295.35 335.62,288.67 337.64,285.42 339.66,287.94 341.68,287.14 343.7,293.27 345.71,288.31 347.73,285.95 349.75,282.81 351.77,284.72 353.79,285.64 355.8,279.44 357.82,281.48 359.84,281.52 361.86,281.59 363.88,281.19 365.89,286.93 367.91,293.32 369.93,303.24 371.95,308.56 373.97,307.75 375.98,303.59 378,304.07 380.02,309.57 382.04,302.98 384.06,300.7 386.07,299.89 388.09,296.61 390.11,299.82 392.13,304.01 394.15,298.91 396.17,297.74 398.18,294.76 400.2,283.6 402.22,283.85 404.24,280.36 406.26,279.76 408.27,278.55 410.29,280.75 412.31,276.99 414.33,279.19 416.35,280.22 418.36,281.76 420.38,282.67 422.4,277.6 424.42,276.24 426.44,270.99 428.45,272.54 430.47,271.02 432.49,278.11 434.51,278.66 436.53,284.8 438.54,287.55 440.56,288.31 442.58,280.88 444.6,280.77 446.62,274.92 448.64,273.5 450.65,271.74 452.67,269.66 454.69,268.46 456.71,264.78 458.73,265.09 460.74,265.12 462.76,262.28 464.78,259.66 466.8,262.15 468.82,264.94 470.83,267.44 472.85,267.64 474.87,263.08 476.89,271.31 478.91,280.15 480.92,287.4 482.94,291.7 484.96,290.15 486.98,293.98 489,297.72 491.01,302.17 493.03,305.86 495.05,309.55 497.07,312.47 499.09,311.26 501.1,315.1 503.12,308.21 505.14,307.45 507.16,308.39 509.18,308.3 511.2,310.01 513.21,312.62 515.23,315.74 517.25,318.02 519.27,319.69 521.29,319.7 523.3,322.79 525.32,324.38 527.34,327.23 529.36,324.3 531.38,332.23 533.39,331.32 535.41,333.82 537.43,333.42 539.45,331.72 541.47,328.44 543.48,327.71 545.5,324.12 547.52,324.01 549.54,321.44 551.56,318.44 553.57,320.14 555.59,316.67 557.61,316.22 559.63,313.94 561.65,313.46 563.67,312.5 565.68,308.23 567.7,312.88 569.72,312.48 571.74,315.29 573.76,315.12 575.77,319.85 577.79,316.71 579.81,311.46 581.83,311.19 583.85,305.52 585.86,308.75 587.88,303.41 589.9,304.08 591.92,299.65 593.94,304.36 595.95,302.79 597.97,306.65 599.99,305.87 602.01,313.2 604.03,325.87 606.04,327.34 608.06,332.58 610.08,334.97 612.1,332.77 614.12,335.02 616.13,333.56 618.15,329.11 620.17,328.21 622.19,333.52 624.21,332.94 626.23,333.6 628.24,335.2 630.26,333.14 632.28,334.09 634.3,331.14 636.32,330.72 638.33,332.85 640.35,328.44 642.37,332.13 644.39,326.72 646.41,328.03 648.42,332.29 650.44,334.65 652.46,333.43 654.48,332.9 656.5,336.12 658.51,336.6 660.53,333.38 662.55,332.98 664.57,334.44 666.59,331.36 668.6,329.19 670.62,329.77 672.64,327.89 674.66,328.45 676.68,326.65 678.7,327.09 680.71,325.32 682.73,322.6 684.75,326.34 686.77,327.72 688.79,328.91 690.8,330.7 692.82,327.34 694.84,326.63 696.86,328.27 698.88,323.69 700.89,322.75 702.91,327.46 704.93,323.53 706.95,326.93 708.97,327.31 710.98,328.51 713,327.68 715.02,327.64 717.04,329.19 719.06,326.35 721.07,332.17 723.09,328.07 725.11,329.12 727.13,329.31 729.15,325.4 731.16,322.46 733.18,326.61 735.2,320.42 737.22,323.27 739.24,322.63 741.26,324.23 743.27,321.17 745.29,324.92 747.31,327.94 749.33,335.5 751.35,333.42 753.36,334.93 755.38,337.65 757.4,334.43 759.42,334.98 761.44,343.6 763.45,349.07 765.47,356.96 767.49,362.61 769.51,362.34 771.53,365.56 773.54,362.44 775.56,358.91 777.58,360.77 779.6,362.86 781.62,360 783.63,355.77 785.65,355.59 787.67,349.38 789.69,350.81 791.71,350.55 793.73,351.72 795.74,352.67 797.76,349.36 799.78,351.51 801.8,347.66 803.82,345.43 805.83,343.14 807.85,342.75 809.87,343.65 811.89,339.17 813.91,344.8 815.92,348.39 817.94,346.82 819.96,346.51 821.98,342.81 824,341.75 826.01,344.39 828.03,342.37 830.05,343.8 832.07,341.93 834.09,344.05 836.1,342.98 838.12,342.99 840.14,342.99 842.16,345.99 844.18,348.86 846.19,350.77 848.21,352.78 850.23,351.44 852.25,356.15 854.27,353.59 856.29,356.98 858.3,356.02 860.32,357.39 862.34,361.44 864.36,358.22 866.38,359.19 868.39,361.43 870.41,362.25 872.43,364.25 874.45,359.42 876.47,362.08 878.48,360.53 880.5,364.65 882.52,365.7 884.54,368.52 886.56,366.2 888.57,372.58 890.59,375.67 892.61,376.12 894.63,380.13 896.65,380.49 898.66,378.95 900.68,384.15 902.7,381.54 904.72,379.29 906.74,379.36 908.76,384.5 910.77,383.62 912.79,389.85 914.81,398.04 916.83,392.43 918.85,393.15 920.86,390.08 922.88,390.23 924.9,391.12 926.92,392.25 928.94,393.95 930.95,392.08 932.97,391.29 934.99,387.24 937.01,384.07 939.03,379.63 941.04,380.33 943.06,381.72 945.08,381.81 947.1,383.16 949.12,382.8 951.13,386.96 953.15,385.22 955.17,384.94 957.19,385.24 959.21,388.93 961.22,386.14 963.24,387.59 965.26,389.12 967.28,388.42 969.3,389.35 971.32,386.08 973.33,388.57 975.35,382.85 977.37,386.95 979.39,384.43 981.41,388.78 983.42,384.02 985.44,384.88 987.46,385 989.48,383.91 991.5,380.03 993.51,381.75 995.53,380.41 997.55,385.98 999.57,387.9 1001.59,387.95 1003.6,387.14 1005.62,387.2 1007.64,386.07 1009.66,387.41 1011.68,390.88 1013.69,389.42 1015.71,395.32 1017.73,392.47 1019.75,392.3 1021.77,390.2 1023.79,392.5 1025.8,391.43 1027.82,394.65 1029.84,393.48 1031.86,394.42 1033.88,396.25 1035.89,396.18 1037.91,395.81 1039.93,400.3 1041.95,399.79 1043.97,400.38 1045.98,402.36 1048,401.57 1050.02,397.96 1052.04,400.57 1054.06,404.45 1056.07,404.08 1058.09,402.35 1060.11,403.96 1062.13,406.91 1064.15,408.83 1066.16,407.04 1068.18,407.68 1070.2,403.27 1072.22,403.54 1074.24,405.76 1076.25,401.76 1078.27,402.38 1080.29,402.03 1082.31,401.4 1084.33,399.31 1086.35,402.25 1088.36,400.93 1090.38,401.45 1092.4,398.69 1094.42,396.98 1096.44,399.69 1098.45,400.54 1100.47,400.25 1102.49,402.13 1104.51,400.83 1106.53,399.35 1108.54,401.94 1110.56,401.02 1112.58,404.14 1114.6,403.72 1116.62,407.99 1118.63,404.29 1120.65,403.7 1122.67,407.35 1124.69,408.31 1126.71,406.79" stroke="#ff7f0e" stroke-width="3.47" stroke-linecap="square"/>
<polyline points="129.78,279.7 131.8,277.37 133.82,275.05 135.83,275.43 137.85,275.85 139.87,277.53 141.89,277.64 143.91,272.93 145.92,264.3 147.94,257.8 149.96,254.02 151.98,254.2 154,253.48 156.01,255.95 158.03,257.44 160.05,255.52 162.07,262.78 164.09,262.57 166.11,265.47 168.12,263.59 170.14,268.43 172.16,269.38 174.18,275.01 176.2,281.12 178.21,283.78 180.23,281.59 182.25,283.36 184.27,282.85 186.29,288.19 188.3,290.21 190.32,294.95 192.34,296.28 194.36,298.82 196.38,303.18 198.39,300 200.41,299.97 202.43,298.74 204.45,296.28 206.47,297.66 208.48,298.19 210.5,299.03 212.52,298.35 214.54,298.7 216.56,297.67 218.58,292.55 220.59,297.7 222.61,295.87 224.63,293.76 226.65,296.07 228.67,291.29 230.68,287.36 232.7,288.02 234.72,285.99 236.74,282.72 238.76,281.29 240.77,276.33 242.79,274.21 244.81,271.81 246.83,268.83 248.85,271.58 250.86,270.76 252.88,272.38 254.9,270.87 256.92,272.84 258.94,273.53 260.95,275.26 262.97,275.51 264.99,272.68 267.01,275.16 269.03,277.26 271.04,273.06 273.06,275.92 275.08,275.06 277.1,275.29 279.12,272.5 281.14,270.13 283.15,269.26 285.17,268.09 287.19,268.98 289.21,264.18 291.23,264.52 293.24,264.81 295.26,263.34 297.28,262.99 299.3,261.33 301.32,262.74 303.33,261.1 305.35,262.91 307.37,260.9 309.39,259.78 311.41,259.83 313.42,256.64 315.44,257.46 317.46,253.85 319.48,253.65 321.5,249.4 323.51,250.99 325.53,245.98 327.55,245.07 329.57,245.99 331.59,241.87 333.61,240.87 335.62,240.34 337.64,232.56 339.66,231.74 341.68,230.02 343.7,227.27 345.71,223.66 347.73,221.55 349.75,220.32 351.77,217.19 353.79,212.84 355.8,212.47 357.82,210.73 359.84,213.29 361.86,218.86 363.88,218.3 365.89,221.08 367.91,217.71 369.93,216.56 371.95,213.15 373.97,211.5 375.98,206.28 378,205.96 380.02,205.04 382.04,198.6 384.06,201.34 386.07,194 388.09,196.18 390.11,190.37 392.13,190.9 394.15,186.79 396.17,182.54 398.18,184.6 400.2,180.92 402.22,175.84 404.24,173.32 406.26,170.55 408.27,166.4 410.29,166.5 412.31,160.26 414.33,158.72 416.35,154.48 418.36,152.05 420.38,148.47 422.4,151.1 424.42,146.94 426.44,147.4 428.45,143.56 430.47,143.48 432.49,152.4 434.51,159.98 436.53,163.56 438.54,163.78 440.56,162.55 442.58,153.04 444.6,146.27 446.62,144.34 448.64,136 450.65,132.67 452.67,130.64 454.69,127.28 456.71,118.96 458.73,118.03 460.74,113.54 462.76,110.28 464.78,112.09 466.8,114.98 468.82,121.55 470.83,123.57 472.85,124.56 474.87,121.63 476.89,123.54 478.91,123.09 480.92,136.01 482.94,163.19 484.96,174.6 486.98,173.93 489,169.31 491.01,169.99 493.03,175.63 495.05,181.29 497.07,187.55 499.09,186.79 501.1,181.79 503.12,178.39 505.14,175.06 507.16,171.9 509.18,167.8 511.2,165.4 513.21,168.92 515.23,169.86 517.25,171.44 519.27,180.35 521.29,187.09 523.3,194.29 525.32,204.11 527.34,215.39 529.36,217.95 531.38,215.03 533.39,229.63 535.41,235.84 537.43,227.44 539.45,213.63 541.47,204.79 543.48,200.47 545.5,201.39 547.52,196.84 549.54,183.06 551.56,178.34 553.57,172.87 555.59,164.33 557.61,162.95 559.63,163.24 561.65,158.7 563.67,155.99 565.68,156.89 567.7,161.42 569.72,174.16 571.74,176.33 573.76,174.45 575.77,173.46 577.79,173.28 579.81,166.38 581.83,160.41 583.85,152.64 585.86,150.48 587.88,149.81 589.9,154.17 591.92,159.55 593.94,158.16 595.95,160.1 597.97,160.96 599.99,166.19 602.01,165.91 604.03,174.17 606.04,171.61 608.06,169.47 610.08,165.58 612.1,166.61 614.12,165.84 616.13,162.69 618.15,162 620.17,159.49 622.19,160.56 624.21,157.27 626.23,152.81 628.24,152.88 630.26,147.54 632.28,144.52 634.3,150.3 636.32,154.64 638.33,156.04 640.35,158.8 642.37,161.76 644.39,166.35 646.41,166.02 648.42,168.4 650.44,169.68 652.46,168.85 654.48,168.79 656.5,167.05 658.51,165.74 660.53,163.53 662.55,166.21 664.57,163.84 666.59,165.19 668.6,159.17 670.62,160.17 672.64,158.74 674.66,155.95 676.68,159.59 678.7,156.66 680.71,153.28 682.73,154.88 684.75,152.72 686.77,151.56 688.79,159.86 690.8,158.99 692.82,157.32 694.84,153.72 696.86,152.42 698.88,149.09 700.89,148.69 702.91,145.86 704.93,144.85 706.95,146.02 708.97,141.5 710.98,141.3 713,137.34 715.02,140.47 717.04,136.92 719.06,136.16 721.07,134.86 723.09,133.25 725.11,132.56 727.13,128.87 729.15,126.15 731.16,124.01 733.18,123.75 735.2,119.74 737.22,117.42 739.24,115.04 741.26,115.1 743.27,119.05 745.29,117.76 747.31,120.79 749.33,123.51 751.35,125.08 753.36,128.85 755.38,131.36 757.4,130.24 759.42,132.12 761.44,135.2 763.45,139.67 765.47,143.68 767.49,160.45 769.51,173.07 771.53,180.62 773.54,174.36 775.56,170.59 777.58,169.1 779.6,164.2 781.62,161.15 783.63,158.29 785.65,153.92 787.67,149.7 789.69,149.08 791.71,149.03 793.73,144.25 795.74,144.13 797.76,140.99 799.78,141.18 801.8,136.42 803.82,135.39 805.83,136.82 807.85,131.73 809.87,134.44 811.89,136.75 813.91,137.9 815.92,139.66 817.94,139.31 819.96,133.77 821.98,130.38 824,125.56 826.01,125.25 828.03,125.39 830.05,122.95 832.07,119.74 834.09,119.83 836.1,119.24 838.12,119.08 840.14,117.29 842.16,121.12 844.18,124.04 846.19,125.05 848.21,126.71 850.23,128.14 852.25,130.66 854.27,134.6 856.29,139.1 858.3,139.75 860.32,141.94 862.34,137.94 864.36,139.52 866.38,134.77 868.39,136.68 870.41,139.55 872.43,139.19 874.45,139.16 876.47,138.59 878.48,142.15 880.5,141.81 882.52,143.68 884.54,145.1 886.56,143.16 888.57,144.95 890.59,147.86 892.61,154.56 894.63,158.87 896.65,163.53 898.66,171.74 900.68,172.76 902.7,174.34 904.72,171.08 906.74,172.59 908.76,172.57 910.77,177.46 912.79,181.31 914.81,193.42 916.83,198.42 918.85,193.11 920.86,187.94 922.88,188.9 924.9,184.44 926.92,183.46 928.94,182.25 930.95,174.84 932.97,172.45 934.99,168.16 937.01,165.91 939.03,162.78 941.04,164.03 943.06,162.24 945.08,160.85 947.1,162.97 949.12,166.09 951.13,165.75 953.15,163.87 955.17,170.41 957.19,169.77 959.21,173.14 961.22,172.53 963.24,175.56 965.26,176.45 967.28,183.66 969.3,180.25 971.32,183.34 973.33,177.5 975.35,177.7 977.37,172.87 979.39,173.48 981.41,172.57 983.42,166.94 985.44,169.32 987.46,166.15 989.48,163.73 991.5,164.14 993.51,162.91 995.53,162.94 997.55,163.1 999.57,163.99 1001.59,166.62 1003.6,167.43 1005.62,169.17 1007.64,171.93 1009.66,173.5 1011.68,170.89 1013.69,175.15 1015.71,173.44 1017.73,171.34 1019.75,171.87 1021.77,169.77 1023.79,174.11 1025.8,170.31 1027.82,172 1029.84,169.58 1031.86,170.07 1033.88,173.09 1035.89,172.44 1037.91,174.82 1039.93,174.59 1041.95,174.59 1043.97,177.41 1045.98,178.11 1048,180.22 1050.02,178.33 1052.04,181.44 1054.06,179.81 1056.07,185.32 1058.09,183.85 1060.11,185.93 1062.13,192.62 1064.15,197.26 1066.16,193.78 1068.18,192.33 1070.2,187 1072.22,185.31 1074.24,186.46 1076.25,183.13 1078.27,182.85 1080.29,183.49 1082.31,180.06 1084.33,181.29 1086.35,176.49 1088.36,173.88 1090.38,170.36 1092.4,173.47 1094.42,166.7 1096.44,167.27 1098.45,165.61 1100.47,165.46 1102.49,166.23 1104.51,169.71 1106.53,165.92 1108.54,167.79 1110.56,169.78 1112.58,170.08 1114.6,173.96 1116.62,173.99 1118.63,172.64 1120.65,174.34 1122.67,177.93 1124.69,181.68 1126.71,177.32" stroke="#2ca02c" stroke-width="3.47" stroke-linecap="square"/>
<polyline points="129.78,279.7 131.8,275.7 133.82,275.96 135.83,278.62 137.85,277.7 139.87,279.34 141.89,281.41 143.91,278.19 145.92,278.31 147.94,274.63 149.96,267.83 151.98,265.47 154,262.32 156.01,262.69 158.03,261.37 160.05,255.7 162.07,270.02 164.09,270.66 166.11,272.71 168.12,273.58 170.14,280.79 172.16,280.63 174.18,289.38 176.2,294.9 178.21,298.07 180.23,293.98 182.25,294.73 184.27,293.38 186.29,292.49 188.3,280.18 190.32,280.6 192.34,285.96 194.36,291.6 196.38,300.37 198.39,302.24 200.41,306.42 202.43,306.2 204.45,305.73 206.47,308.39 208.48,306.49 210.5,301.77 212.52,297.11 214.54,298.47 216.56,302.34 218.58,301.93 220.59,307.64 222.61,299.54 224.63,295.91 226.65,301.66 228.67,301.7 230.68,300.77 232.7,300.52 234.72,298.49 236.74,294.35 238.76,293.48 240.77,290.81 242.79,291.71 244.81,289.31 246.83,280.39 248.85,277.92 250.86,273.43 252.88,273.1 254.9,272.09 256.92,272.66 258.94,271.83 260.95,273.47 262.97,275.24 264.99,273.92 267.01,278.92 269.03,279.73 271.04,275.62 273.06,280.15 275.08,278.88 277.1,280.96 279.12,280.02 281.14,277.23 283.15,274.17 285.17,270.82 287.19,269.53 289.21,262.54 291.23,261.71 293.24,261.49 295.26,259.53 297.28,258.67 299.3,256.51 301.32,258.06 303.33,256.93 305.35,259.25 307.37,257.74 309.39,257.13 311.41,257.68 313.42,255 315.44,256.32 317.46,253.22 319.48,253.52 321.5,249.4 323.51,250.99 325.53,245.98 327.55,245.07 329.57,245.99 331.59,242.8 333.61,242.98 335.62,243.62 337.64,237.02 339.66,237.38 341.68,237.25 343.7,236.19 345.71,234.16 347.73,233.46 349.75,233.65 351.77,231.48 353.79,228.05 355.8,228.58 357.82,226.72 359.84,223.73 361.86,220.31 363.88,212.12 365.89,213.05 367.91,214.11 369.93,217.41 371.95,214.74 373.97,213.69 375.98,209.47 378,210.57 380.02,211.03 382.04,203.99 384.06,206.12 386.07,198.18 388.09,199.75 390.11,193.34 392.13,193.26 394.15,188.54 396.17,184.56 398.18,187.54 400.2,184.82 402.22,181.25 404.24,180.25 406.26,178.99 408.27,176.36 410.29,177.97 412.31,173.24 414.33,173.22 416.35,169.48 418.36,167.05 420.38,162.9 422.4,162.5 424.42,155.31 426.44,157.05 428.45,156.24 430.47,155.88 432.49,153.7 434.51,150.18 436.53,145.72 438.54,145.14 440.56,153.74 442.58,165.94 444.6,169.27 446.62,170.14 448.64,162.81 450.65,159.52 452.67,155.47 454.69,150.09 456.71,138.9 458.73,134.95 460.74,127.8 462.76,122.52 464.78,122.31 466.8,120.49 468.82,122.01 470.83,121.9 472.85,124.91 474.87,124 476.89,126.04 478.91,125.59 480.92,125.57 482.94,126.93 484.96,121.19 486.98,133.03 489,148.27 491.01,165.57 493.03,175.39 495.05,166.13 497.07,166.35 499.09,169.05 501.1,173.97 503.12,180.58 505.14,180.48 507.16,183.38 509.18,177.79 511.2,172.95 513.21,173.38 515.23,169.51 517.25,168.06 519.27,170.41 521.29,175.88 523.3,186.7 525.32,200.32 527.34,203.53 529.36,199.77 531.38,193.28 533.39,200.25 535.41,204.34 537.43,213.1 539.45,220.33 541.47,228.28 543.48,235.16 545.5,224.63 547.52,213.15 549.54,205.43 551.56,205.98 553.57,197.5 555.59,181.54 557.61,179.2 559.63,179.49 561.65,174.13 563.67,170.41 565.68,168.24 567.7,164.81 569.72,161.4 571.74,160.46 573.76,156.32 575.77,158.49 577.79,171.43 579.81,177.65 581.83,176.57 583.85,172.83 585.86,173.41 587.88,172.22 589.9,169.52 591.92,164 593.94,155.1 595.95,154.32 597.97,155.73 599.99,159.95 602.01,157.65 604.03,161.6 606.04,161.83 608.06,168.09 610.08,168.2 612.1,172.25 614.12,172.09 616.13,168.37 618.15,167 620.17,164.49 622.19,165.56 624.21,162.27 626.23,159.04 628.24,161.12 630.26,157.54 632.28,154.52 634.3,156.7 636.32,155.69 638.33,151.03 640.35,148.8 642.37,151.76 644.39,156.35 646.41,156.73 648.42,160.12 650.44,163.07 652.46,166.27 654.48,170.24 656.5,170.3 658.51,169.99 660.53,168.27 662.55,169.93 664.57,166.56 666.59,170.07 668.6,167.08 670.62,170.48 672.64,170.06 674.66,168.28 676.68,171.25 678.7,167.31 680.71,162.92 682.73,163.51 684.75,160.34 686.77,155.52 688.79,159.79 690.8,156.49 692.82,154.82 694.84,151.22 696.86,155.5 698.88,158.22 700.89,158.06 702.91,149.61 704.93,148.6 706.95,149.77 708.97,144.52 710.98,143.8 713,140.84 715.02,148 717.04,147.48 719.06,145.86 721.07,142.53 723.09,139.5 725.11,138.92 727.13,137.25 729.15,135.72 731.16,134.01 733.18,134.1 735.2,131.09 737.22,129.78 739.24,126.67 741.26,123.84 743.27,123.37 745.29,117.47 747.31,118.48 749.33,119.18 751.35,117.39 753.36,119.72 755.38,124.43 757.4,126.33 759.42,129.33 761.44,131.27 763.45,133.23 765.47,131.86 767.49,135.52 769.51,130 771.53,145.33 773.54,158.35 775.56,173.96 777.58,183.94 779.6,175 781.62,169.53 783.63,164.66 785.65,159.25 787.67,156.04 789.69,156.43 791.71,155.67 793.73,149.89 795.74,149.5 797.76,147.37 799.78,148.57 801.8,143.92 803.82,142.89 805.83,144.32 807.85,139.23 809.87,141.94 811.89,139.53 813.91,135.64 815.92,135.58 817.94,137.25 819.96,133.73 821.98,133.34 824,131.55 826.01,132.75 828.03,132.89 830.05,130.43 832.07,126.21 834.09,125.29 836.1,124.24 838.12,124.08 840.14,122.15 842.16,123.96 844.18,124.86 846.19,122.07 848.21,120.82 850.23,123.14 852.25,125.66 854.27,129.6 856.29,132.81 858.3,131.45 860.32,132.91 862.34,134.96 864.36,142.6 866.38,139.08 868.39,139.98 870.41,141.84 872.43,140.47 874.45,139.44 876.47,137.12 878.48,138.66 880.5,137.06 882.52,139.94 884.54,142.37 886.56,139.89 888.57,140.66 890.59,141.68 892.61,144.34 894.63,144.61 896.65,146.06 898.66,151.25 900.68,152.99 902.7,162.65 904.72,167.46 906.74,169.23 908.76,168.2 910.77,172.08 912.79,173.75 914.81,176.78 916.83,180 918.85,181.75 920.86,186.39 922.88,195.43 924.9,199.04 926.92,196.55 928.94,193.32 930.95,186.27 932.97,186.91 934.99,185.65 937.01,187.43 939.03,188.33 941.04,186.31 943.06,174.43 945.08,163.27 947.1,163.37 949.12,164.47 951.13,163.25 953.15,161.37 955.17,167.82 957.19,166.17 959.21,168.54 961.22,166.92 963.24,168.94 965.26,168.95 967.28,176.16 969.3,172.75 971.32,179.13 973.33,178.33 975.35,183.05 977.37,180.24 979.39,182.87 981.41,181.87 983.42,175.23 985.44,176.82 987.46,173.65 989.48,171.23 991.5,170.89 993.51,168.65 995.53,167.14 997.55,164.28 999.57,162.14 1001.59,160.95 1003.6,161.03 1005.62,164.79 1007.64,169.57 1009.66,173.16 1011.68,169.21 1013.69,171.45 1015.71,168.8 1017.73,167.7 1019.75,169.24 1021.77,169.03 1023.79,175.39 1025.8,172.4 1027.82,173.09 1029.84,169.66 1031.86,169.14 1033.88,171.16 1035.89,169.94 1037.91,172.32 1039.93,172.09 1041.95,171.11 1043.97,172.93 1045.98,173.11 1048,175.22 1050.02,173.32 1052.04,175.42 1054.06,172.78 1056.07,177.28 1058.09,174.8 1060.11,175.82 1062.13,180.49 1064.15,183.11 1066.16,181.69 1068.18,186.65 1070.2,190 1072.22,193.36 1074.24,197.61 1076.25,191.24 1078.27,188.71 1080.29,188.34 1082.31,183.91 1084.33,185.04 1086.35,181.59 1088.36,181.43 1090.38,180.74 1092.4,185.87 1094.42,176.32 1096.44,173.14 1098.45,169.36 1100.47,168.74 1102.49,167.49 1104.51,169.95 1106.53,165.16 1108.54,166.54 1110.56,168.53 1112.58,168.75 1114.6,170.62 1116.62,168.62 1118.63,166.96 1120.65,169.34 1122.67,172.85 1124.69,175.59 1126.71,170.21 1128.72,178.38 1130.74,176.57 1132.76,182.17 1134.78,180.34" stroke="#d62728" stroke-width="3.47" stroke-linecap="square"/>
</g>
<g stroke="#000" stroke-width="1.11" fill="none" stroke-linecap="square">
<path d="M80.5 37.5V542.5M1185.5 37.5V542.5M80.5 37.5H1185.5M80.5 542.5H1185.5" stroke-linecap="butt"/>
<path d="M130.5 542.5V547.36M332.5 542.5V547.36M533.5 542.5V547.36M735.5 542.5V547.36M937.5 542.5V547.36M1139.5 542.5V547.36M75.64 83.5H80.5M75.64 148.5H80.5M75.64 214.5H80.5M75.64 279.5H80.5M75.64 345.5H80.5M75.64 410.5H80.5M75.64 475.5H80.5M75.64 541.5H80.5" stroke-linecap="butt"/>
</g>
<text x="427.64" y="27.86" font-size="16.67" textLength="409.25" lengthAdjust="spacingAndGlyphs">Portfolio Wealth (VN100 (Vietnam)) — Test Period</text>
<text x="587.08" y="581.72" font-size="13.89" textLength="90.38" lengthAdjust="spacingAndGlyphs">Trading Days</text>
<text transform="translate(24.22,351.53) rotate(-90)" font-size="13.89" textLength="124" lengthAdjust="spacingAndGlyphs">Portfolio Value ($)</text>
<text x="125.4" y="562.16" font-size="13.89" textLength="8.75" lengthAdjust="spacingAndGlyphs">0</text>
<text x="318.39" y="562.16" font-size="13.89" textLength="26.38" lengthAdjust="spacingAndGlyphs">100</text>
<text x="520.26" y="562.16" font-size="13.89" textLength="26.25" lengthAdjust="spacingAndGlyphs">200</text>
<text x="722.06" y="562.16" font-size="13.89" textLength="26.25" lengthAdjust="spacingAndGlyphs">300</text>
<text x="923.86" y="562.16" font-size="13.89" textLength="26.25" lengthAdjust="spacingAndGlyphs">400</text>
<text x="1125.66" y="562.16" font-size="13.89" textLength="26.25" lengthAdjust="spacingAndGlyphs">500</text>
<text x="43.56" y="546.49" font-size="13.89" textLength="26.25" lengthAdjust="spacingAndGlyphs">200</text>
<text x="43.56" y="481.05" font-size="13.89" textLength="26.25" lengthAdjust="spacingAndGlyphs">400</text>
<text x="43.43" y="415.62" font-size="13.89" textLength="26.38" lengthAdjust="spacingAndGlyphs">600</text>
<text x="43.43" y="350.19" font-size="13.89" textLength="26.38" lengthAdjust="spacingAndGlyphs">800</text>
<text x="34.68" y="284.76" font-size="13.89" textLength="35.12" lengthAdjust="spacingAndGlyphs">1000</text>
<text x="34.68" y="219.32" font-size="13.89" textLength="35.12" lengthAdjust="spacingAndGlyphs">1200</text>
<text x="34.68" y="153.89" font-size="13.89" textLength="35.12" lengthAdjust="spacingAndGlyphs">1400</text>
<text x="34.56" y="88.46" font-size="13.89" textLength="35.25" lengthAdjust="spacingAndGlyphs">1600</text>
<rect x="85.78" y="435.47" width="343.75" height="100" rx="2.5" ry="2.5" fill="#fff" fill-opacity="0.8" stroke="#ccc" stroke-opacity="0.8" stroke-width="1.11"/>
<path d="M90.78 446.1H115.78" stroke="#1f77b4" stroke-width="3.47" stroke-linecap="square" fill="none"/>
<path d="M90.78 465.35H115.78" stroke="#ff7f0e" stroke-width="3.47" stroke-linecap="square" fill="none"/>
<path d="M90.78 484.6H115.78" stroke="#2ca02c" stroke-width="3.47" stroke-linecap="square" fill="none"/>
<path d="M90.78 503.85H115.78" stroke="#d62728" stroke-width="3.47" stroke-linecap="square" fill="none"/>
<path d="M90.78 523.1H115.78" stroke="#9467bd" stroke-width="3.47" stroke-linecap="square" fill="none"/>
<path d="M223.4 446.1H248.4" stroke="#8c564b" stroke-width="3.47" stroke-linecap="square" fill="none"/>
<path d="M223.4 465.35H248.4" stroke="#e377c2" stroke-width="3.47" stroke-linecap="square" fill="none"/>
<path d="M223.4 484.6H248.4" stroke="#7f7f7f" stroke-width="3.47" stroke-linecap="square" fill="none"/>
<path d="M223.4 503.85H248.4" stroke="#bcbd22" stroke-width="3.47" stroke-linecap="square" fill="none"/>
<path d="M223.4 523.1H248.4" stroke="#17becf" stroke-width="2.5" stroke-dasharray="9.25 4" fill="none"/>
<path d="M344.65 446.1H369.65" stroke="#1f77b4" stroke-width="2.5" stroke-dasharray="9.25 4" fill="none"/>
<path d="M344.65 465.35H369.65" stroke="#ff7f0e" stroke-width="3.47" stroke-linecap="square" fill="none"/>
<path d="M344.65 484.6H369.65" stroke="#2ca02c" stroke-width="3.47" stroke-linecap="square" fill="none"/>
<path d="M344.65 503.85H369.65" stroke="#d62728" stroke-width="3.47" stroke-linecap="square" fill="none"/>
<text x="125.78" y="450.52" font-size="12.5" textLength="61.37" lengthAdjust="spacingAndGlyphs">TD3_PINN</text>
<text x="125.78" y="469.77" font-size="12.5" textLength="61" lengthAdjust="spacingAndGlyphs">PPO_PINN</text>
<text x="125.78" y="489.02" font-size="12.5" textLength="72.62" lengthAdjust="spacingAndGlyphs">DDPG_PINN</text>
<text x="125.78" y="508.27" font-size="12.5" textLength="24.87" lengthAdjust="spacingAndGlyphs">PPO</text>
<text x="125.78" y="527.52" font-size="12.5" textLength="36.5" lengthAdjust="spacingAndGlyphs">DDPG</text>
<text x="258.4" y="450.52" font-size="12.5" textLength="25.25" lengthAdjust="spacingAndGlyphs">TD3</text>
<text x="258.4" y="469.77" font-size="12.5" textLength="25.25" lengthAdjust="spacingAndGlyphs">SAC</text>
<text x="258.4" y="489.02" font-size="12.5" textLength="25.12" lengthAdjust="spacingAndGlyphs">A2C</text>
<text x="258.4" y="508.27" font-size="12.5" textLength="61.25" lengthAdjust="spacingAndGlyphs">A2C_PINN</text>
<text x="258.4" y="527.52" font-size="12.5" textLength="35.62" lengthAdjust="spacingAndGlyphs">UBAH</text>
<text x="379.65" y="450.52" font-size="12.5" textLength="25" lengthAdjust="spacingAndGlyphs">CRP</text>
<text x="379.65" y="469.77" font-size="12.5" textLength="44.88" lengthAdjust="spacingAndGlyphs">OLMAR</text>
<text x="379.65" y="489.02" font-size="12.5" textLength="28.25" lengthAdjust="spacingAndGlyphs">RMR</text>
<text x="379.65" y="508.27" font-size="12.5" textLength="34.75" lengthAdjust="spacingAndGlyphs">PAMR</text>
</svg></body></html>
